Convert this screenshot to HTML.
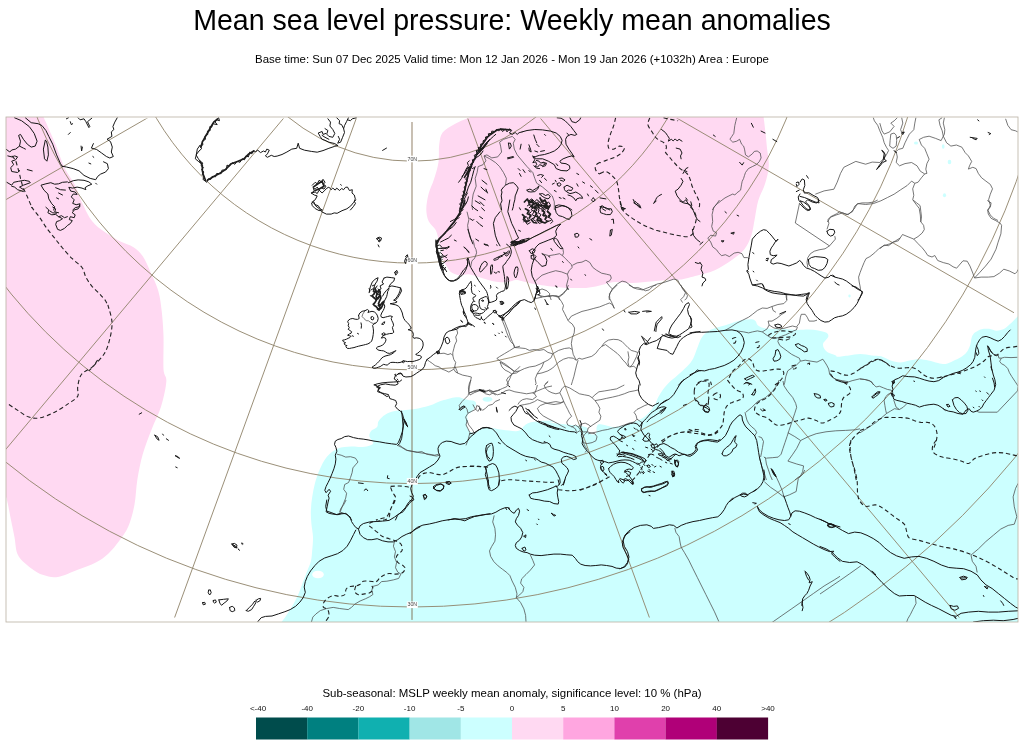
<!DOCTYPE html>
<html lang="en"><head><meta charset="utf-8"><title>Mean sea level pressure: Weekly mean anomalies</title>
<style>
html,body{margin:0;padding:0;background:#fff;}
body{width:1024px;height:747px;overflow:hidden;position:relative;font-family:"Liberation Sans",Arial,sans-serif;color:#000;}
h1{position:absolute;left:0;top:4px;width:1024px;margin:0;text-align:center;font-weight:normal;font-size:28.57px;line-height:32px;white-space:nowrap;}
.sub{position:absolute;left:0;top:52px;width:1024px;text-align:center;font-size:11.44px;line-height:14px;white-space:nowrap;}
.lt{position:absolute;left:0;top:686px;width:1024px;text-align:center;font-size:11.44px;line-height:14px;white-space:nowrap;}
svg{position:absolute;left:0;top:0;}
.gl{font-size:5.3px;fill:#444;text-anchor:middle;font-family:"Liberation Sans",sans-serif;}
.ll{font-size:8px;fill:#111;text-anchor:middle;font-family:"Liberation Sans",sans-serif;}
</style></head><body>
<h1>Mean sea level pressure: Weekly mean anomalies</h1>
<div class="sub">Base time: Sun 07 Dec 2025 Valid time: Mon 12 Jan 2026 - Mon 19 Jan 2026 (+1032h) Area : Europe</div>
<div class="lt">Sub-seasonal: MSLP weekly mean anomaly, significance level: 10 % (hPa)</div>
<svg width="1024" height="747" viewBox="0 0 1024 747">
<defs>
<clipPath id="mapclip"><rect x="6" y="117" width="1012" height="505"/></clipPath>
<clipPath id="gclip"><rect x="6" y="118.5" width="1008" height="499"/></clipPath>
<clipPath id="cyclip"><path d="M281.4,622.2C282.3,620.9 284.8,617.7 286.8,614.7C288.8,611.7 291.5,607.6 293.5,604C295.5,600.4 297.3,596.9 298.8,593.3C300.4,589.7 301.5,586.2 302.8,582.6C304.2,579 305.5,575.4 306.8,571.9C308.2,568.3 310,564.7 310.9,561.2C311.8,557.6 311.8,554.5 312.2,550.5C312.6,546.4 313.1,541.5 313,537.1C312.9,532.6 311.8,528.2 311.4,523.7C311,519.2 310.7,514.8 310.9,510.3C311,505.8 311.5,501.4 312.2,496.9C312.9,492.5 313.7,488 314.9,483.5C316.1,479.1 317.4,474.6 319.4,470.2C321.4,465.7 323.9,460.3 326.9,456.8C330,453.2 333.6,450.4 337.6,448.7C341.6,447 347.2,446.9 351,446.6C354.8,446.3 357.7,447.1 360.5,447C363.4,446.9 366.2,446.6 368.4,446C370.5,445.4 372.8,444.6 373.2,443.5C373.7,442.4 371.9,440.9 371.3,439.6C370.6,438.3 369.3,437.1 369.3,435.7C369.3,434.2 370,432.2 371.3,430.8C372.6,429.3 376,428.3 377.1,426.9C378.3,425.4 377.5,423.5 378.1,422C378.8,420.5 379.8,419.4 381.1,418.1C382.4,416.8 383.8,415.3 385.9,414.2C388.1,413 390.8,411.9 393.8,411.2C396.7,410.6 400.3,410.6 403.5,410.3C406.8,409.9 410,409.8 413.3,409.3C416.5,408.8 419.8,408.2 423,407.3C426.3,406.5 429.9,405.5 432.8,404.4C435.7,403.4 438.3,401.9 440.6,401.1C443,400.2 444.8,399.9 447,399.3C449.3,398.8 452,397.9 454.1,397.6C456.1,397.2 457.8,397.1 459.3,397.3C460.9,397.5 462,398.3 463.4,398.8C464.9,399.2 466.6,399.6 468.1,399.9C469.7,400.2 471.5,400.1 472.8,400.5C474.1,400.9 475.3,401.5 475.7,402.3C476.2,403 476,404.1 475.7,405.2C475.4,406.3 474.8,407.5 474,408.7C473.2,409.9 472,411.3 471.1,412.2C470.1,413.1 468.8,413.1 468.1,414C467.5,414.9 467.2,416.3 467.2,417.5C467.2,418.7 468.2,419.9 468.1,421C468,422.1 466.8,422.8 466.7,423.9C466.6,425.1 467.1,426.9 467.5,428C468,429.2 468.2,430.1 469.3,431C470.4,431.9 472.6,433.2 474,433.3C475.4,433.4 476.4,432.3 477.5,431.6C478.6,430.8 479.4,429.4 480.4,428.6C481.5,427.9 482.5,427.3 483.9,427.1C485.4,426.9 487.4,427.2 489.2,427.5C491.1,427.7 492.9,428.2 495.1,428.6C497.2,429 499.8,429.5 502.1,429.8C504.5,430.1 506.8,430.4 509.1,430.6C511.5,430.9 514.2,431.3 516.2,431.2C518.1,431.1 519.6,430.6 520.9,429.8C522.1,429 522.8,427.3 523.8,426.3C524.8,425.3 525.3,424.7 526.7,423.9C528.2,423.2 530.4,422.4 532.6,422C534.7,421.5 537.1,421.2 539.6,421C542.1,420.8 545.3,420.7 547.8,420.8C550.4,420.8 554.5,421 554.8,421.2C555.2,421.5 549,421.9 549.8,422.3C550.5,422.8 556.3,423.3 559.5,423.7C562.8,424.1 566,424.4 569.3,424.7C572.6,425 576.1,425.2 579.1,425.7C582,426.2 585.4,426.6 586.9,427.6C588.3,428.6 587,430.4 587.9,431.5C588.7,432.7 590.4,434.2 591.8,434.5C593.2,434.7 595.4,434 596.2,432.9C597.1,431.8 596.2,429 596.6,427.6C597,426.2 597.3,424.7 598.6,424.3C599.9,423.9 602.2,424.6 604.5,425.1C606.7,425.5 609.3,426.9 612.3,427C615.2,427.1 618.8,426.4 622,425.7C625.3,424.9 628.9,423.7 631.8,422.7C634.7,421.8 637.3,420.9 639.6,419.8C641.9,418.7 643.7,417.4 645.5,415.9C647.3,414.4 648.7,413 650.4,411C652,409.1 653.9,406.5 655.2,404.2C656.5,401.9 656.9,399.8 658.2,397.3C659.5,394.9 661.1,392.1 663,389.5C665,386.9 667.6,384 669.9,381.7C672.2,379.4 673.8,378.5 676.7,375.9C679.6,373.3 684.6,369.1 687.3,366.2C690.1,363.3 691.6,361.3 693.2,358.4C694.8,355.4 695.8,351.8 697.1,348.6C698.4,345.3 699.6,341.4 701,338.8C702.5,336.2 703.9,334.6 705.9,333C707.9,331.3 710,330.2 712.7,329.1C715.5,327.9 718.9,327.3 722.5,326.1C726.1,325 730.6,323.3 734.2,322.2C737.8,321.2 741.1,320.2 744,319.7C746.9,319.2 749.8,319 751.8,319.3C753.8,319.6 754.7,320.3 755.7,321.2C756.7,322.2 756.4,324 757.7,325.2C759,326.3 760.9,327.4 763.5,328.1C766.1,328.7 769.7,328.9 773.3,329.1C776.9,329.2 781.1,328.9 785,329.1C788.9,329.2 792.8,329.9 796.7,330C800.6,330.1 804.9,329.6 808.4,329.6C812,329.7 815.3,329.9 818.2,330.4C821.1,330.9 824.3,331.7 826,332.6C827.7,333.5 828.4,334.7 828.4,335.9C828.4,337.1 826.9,338.5 826,339.8C825.1,341.1 823.4,342.2 823.1,343.7C822.8,345.2 823.2,347.1 824.1,348.6C824.9,350.1 826,351.4 828,352.5C829.9,353.6 834.2,354.7 835.8,355.4C837.4,356.1 835.4,356.7 837.6,356.7C839.8,356.7 845.2,355.8 848.9,355.4C852.7,354.9 856.5,354 860.3,354C864.1,354 868.2,355 871.7,355.4C875.2,355.7 878,355.5 881.2,356.3C884.3,357.2 887.5,359.5 890.6,360.5C893.8,361.5 896.9,362.4 900.1,362.4C903.3,362.4 906.4,361 909.6,360.5C912.7,359.9 915.9,359.2 919,359.2C922.2,359.2 925.4,359.8 928.5,360.5C931.7,361.1 935.1,362.4 938,362.9C940.8,363.5 943,364.2 945.6,363.9C948.1,363.6 950.6,362.2 953.1,361C955.7,359.9 958.5,358.7 960.7,357.3C962.9,355.8 964.8,354.6 966.4,352.5C968,350.5 969.3,347.5 970.2,344.9C971.1,342.4 970.9,339.4 971.7,337.4C972.5,335.3 973.3,334 974.9,332.6C976.6,331.3 979.2,329.8 981.6,329.2C983.9,328.6 986.6,328.6 989.1,328.8C991.7,329.1 994.2,330.7 996.7,330.7C999.2,330.7 1002.1,329.9 1004.3,328.8C1006.5,327.7 1008.2,325.7 1010,324.1C1011.7,322.5 1013.5,320.6 1014.7,319.4C1016,318.1 1017.1,317 1017.6,316.5 L1018,316.5 L1018,622 L281.4,622 Z"/></clipPath>
</defs>
<g clip-path="url(#mapclip)">
<path d="M6,117 L43.5,117C45.5,121.6 52.2,136.4 55.7,144.8C59.1,153.2 61.2,160.7 64.4,167.4C67.6,174.1 71.9,179 74.8,184.8C77.7,190.6 78.9,196.1 81.8,202.2C84.7,208.3 88.4,216.4 92.2,221.3C96,226.3 100,228.6 104.4,231.8C108.7,235 113.4,237.9 118.3,240.5C123.2,243.1 129.9,244.8 133.9,247.4C138,250 140,252.4 142.6,256.1C145.3,259.9 147,264.2 149.6,270C152.2,275.8 156.3,284 158.3,290.9C160.3,297.9 160.9,304.3 161.8,311.8C162.6,319.3 163.2,326.6 163.5,336.1C163.8,345.7 163.1,361.6 163.5,369.2C164,376.8 166.8,375.4 166.3,381.7C165.9,388 163.3,399.2 160.9,407C158.5,414.8 154.9,420.9 151.9,428.7C148.8,436.5 145.2,445.6 142.8,454C140.4,462.4 138.8,470.9 137.4,479.3C136,487.8 136,496.8 134.5,504.6C133,512.5 130.9,520.3 128.4,526.3C125.8,532.3 122.6,536.3 119.3,540.8C116,545.3 112.4,549.8 108.5,553.4C104.6,557.1 100.9,559.8 95.8,562.5C90.7,565.2 84.1,567.3 77.7,569.7C71.4,572.1 63.6,576 57.9,576.9C52.1,577.8 47.9,576.6 43.4,575.1C38.9,573.6 35,571.2 30.7,567.9C26.5,564.6 20.8,560.4 18.1,555.2C15.4,550.1 15.7,543.2 14.5,537.2C13.3,531.1 11.9,524.5 10.8,519.1C9.8,513.7 8.7,508.2 8,504.6C7.2,501 6.7,498.6 6.5,497.4 L6,497.4 Z" fill="#ffd9f2"/>
<path d="M470.5,117C467.9,118.1 459.4,121.3 454.8,123.9C450.2,126.5 445.2,129.1 442.6,132.6C440,136.1 439.9,139.9 439.2,144.8C438.5,149.7 439.3,156.4 438.5,162.2C437.6,168 435.6,174.4 433.9,179.6C432.3,184.8 430,188.6 428.7,193.5C427.4,198.4 426.3,204.5 426.3,209.2C426.3,213.8 427.2,217.9 428.7,221.3C430.3,224.8 433.9,226.6 435.7,230C437.4,233.5 437.9,237.3 439.2,242.2C440.4,247.1 442.1,255.3 443.4,259.5C444.8,263.7 446,265.2 447.3,267.3C448.6,269.5 449.3,270.9 451.2,272.2C453.2,273.5 456.1,274.8 459.1,275.2C462,275.5 465.6,273.9 468.8,274.2C472.1,274.5 475.3,276.1 478.6,277.1C481.8,278.1 485.1,279.2 488.4,280C491.6,280.9 494.9,281.7 498.1,282C501.4,282.3 505,282.3 507.9,282C510.8,281.7 513.4,280.2 515.7,280C518,279.9 519.3,280.5 521.6,281C523.8,281.5 526.8,282.4 529.4,283C532,283.6 534.3,284 537.2,284.5C540.1,285 543.7,285.5 547,285.9C550.2,286.3 553.5,286.5 556.7,286.9C560,287.2 563.2,287.7 566.5,287.9C569.7,288 573,287.9 576.2,287.9C579.5,287.9 582.8,288.1 586,287.9C589.3,287.6 592.5,287.1 595.8,286.5C599,285.8 602.3,284.7 605.5,283.9C608.8,283.2 610.9,282.2 615.3,282C619.8,281.8 625.9,283 632.2,282.9C638.5,282.8 646.2,281.8 653.1,281.2C660.1,280.6 669.5,279.7 674,279.4C678.5,279.2 676.1,280.2 680,279.6C683.9,278.9 691.6,277 697.4,275.4C703.2,273.8 709,272.8 714.8,270.2C720.6,267.6 727.3,263.2 732.2,259.7C737.2,256.2 741.2,253.3 744.4,249.3C747.6,245.2 749.6,240.6 751.4,235.3C753.1,230.1 753.7,223.7 754.9,217.9C756,212.1 756.6,206.3 758.3,200.5C760.1,194.7 763.6,188.9 765.3,183.1C767,177.3 768.5,171.5 768.8,165.7C769.1,159.9 767.6,154.1 767,148.3C766.5,142.5 765.9,136.1 765.3,130.9C764.7,125.7 763.9,119.3 763.6,117Z" fill="#ffd9f2"/>
<path id="cy" d="M281.4,622.2C282.3,620.9 284.8,617.7 286.8,614.7C288.8,611.7 291.5,607.6 293.5,604C295.5,600.4 297.3,596.9 298.8,593.3C300.4,589.7 301.5,586.2 302.8,582.6C304.2,579 305.5,575.4 306.8,571.9C308.2,568.3 310,564.7 310.9,561.2C311.8,557.6 311.8,554.5 312.2,550.5C312.6,546.4 313.1,541.5 313,537.1C312.9,532.6 311.8,528.2 311.4,523.7C311,519.2 310.7,514.8 310.9,510.3C311,505.8 311.5,501.4 312.2,496.9C312.9,492.5 313.7,488 314.9,483.5C316.1,479.1 317.4,474.6 319.4,470.2C321.4,465.7 323.9,460.3 326.9,456.8C330,453.2 333.6,450.4 337.6,448.7C341.6,447 347.2,446.9 351,446.6C354.8,446.3 357.7,447.1 360.5,447C363.4,446.9 366.2,446.6 368.4,446C370.5,445.4 372.8,444.6 373.2,443.5C373.7,442.4 371.9,440.9 371.3,439.6C370.6,438.3 369.3,437.1 369.3,435.7C369.3,434.2 370,432.2 371.3,430.8C372.6,429.3 376,428.3 377.1,426.9C378.3,425.4 377.5,423.5 378.1,422C378.8,420.5 379.8,419.4 381.1,418.1C382.4,416.8 383.8,415.3 385.9,414.2C388.1,413 390.8,411.9 393.8,411.2C396.7,410.6 400.3,410.6 403.5,410.3C406.8,409.9 410,409.8 413.3,409.3C416.5,408.8 419.8,408.2 423,407.3C426.3,406.5 429.9,405.5 432.8,404.4C435.7,403.4 438.3,401.9 440.6,401.1C443,400.2 444.8,399.9 447,399.3C449.3,398.8 452,397.9 454.1,397.6C456.1,397.2 457.8,397.1 459.3,397.3C460.9,397.5 462,398.3 463.4,398.8C464.9,399.2 466.6,399.6 468.1,399.9C469.7,400.2 471.5,400.1 472.8,400.5C474.1,400.9 475.3,401.5 475.7,402.3C476.2,403 476,404.1 475.7,405.2C475.4,406.3 474.8,407.5 474,408.7C473.2,409.9 472,411.3 471.1,412.2C470.1,413.1 468.8,413.1 468.1,414C467.5,414.9 467.2,416.3 467.2,417.5C467.2,418.7 468.2,419.9 468.1,421C468,422.1 466.8,422.8 466.7,423.9C466.6,425.1 467.1,426.9 467.5,428C468,429.2 468.2,430.1 469.3,431C470.4,431.9 472.6,433.2 474,433.3C475.4,433.4 476.4,432.3 477.5,431.6C478.6,430.8 479.4,429.4 480.4,428.6C481.5,427.9 482.5,427.3 483.9,427.1C485.4,426.9 487.4,427.2 489.2,427.5C491.1,427.7 492.9,428.2 495.1,428.6C497.2,429 499.8,429.5 502.1,429.8C504.5,430.1 506.8,430.4 509.1,430.6C511.5,430.9 514.2,431.3 516.2,431.2C518.1,431.1 519.6,430.6 520.9,429.8C522.1,429 522.8,427.3 523.8,426.3C524.8,425.3 525.3,424.7 526.7,423.9C528.2,423.2 530.4,422.4 532.6,422C534.7,421.5 537.1,421.2 539.6,421C542.1,420.8 545.3,420.7 547.8,420.8C550.4,420.8 554.5,421 554.8,421.2C555.2,421.5 549,421.9 549.8,422.3C550.5,422.8 556.3,423.3 559.5,423.7C562.8,424.1 566,424.4 569.3,424.7C572.6,425 576.1,425.2 579.1,425.7C582,426.2 585.4,426.6 586.9,427.6C588.3,428.6 587,430.4 587.9,431.5C588.7,432.7 590.4,434.2 591.8,434.5C593.2,434.7 595.4,434 596.2,432.9C597.1,431.8 596.2,429 596.6,427.6C597,426.2 597.3,424.7 598.6,424.3C599.9,423.9 602.2,424.6 604.5,425.1C606.7,425.5 609.3,426.9 612.3,427C615.2,427.1 618.8,426.4 622,425.7C625.3,424.9 628.9,423.7 631.8,422.7C634.7,421.8 637.3,420.9 639.6,419.8C641.9,418.7 643.7,417.4 645.5,415.9C647.3,414.4 648.7,413 650.4,411C652,409.1 653.9,406.5 655.2,404.2C656.5,401.9 656.9,399.8 658.2,397.3C659.5,394.9 661.1,392.1 663,389.5C665,386.9 667.6,384 669.9,381.7C672.2,379.4 673.8,378.5 676.7,375.9C679.6,373.3 684.6,369.1 687.3,366.2C690.1,363.3 691.6,361.3 693.2,358.4C694.8,355.4 695.8,351.8 697.1,348.6C698.4,345.3 699.6,341.4 701,338.8C702.5,336.2 703.9,334.6 705.9,333C707.9,331.3 710,330.2 712.7,329.1C715.5,327.9 718.9,327.3 722.5,326.1C726.1,325 730.6,323.3 734.2,322.2C737.8,321.2 741.1,320.2 744,319.7C746.9,319.2 749.8,319 751.8,319.3C753.8,319.6 754.7,320.3 755.7,321.2C756.7,322.2 756.4,324 757.7,325.2C759,326.3 760.9,327.4 763.5,328.1C766.1,328.7 769.7,328.9 773.3,329.1C776.9,329.2 781.1,328.9 785,329.1C788.9,329.2 792.8,329.9 796.7,330C800.6,330.1 804.9,329.6 808.4,329.6C812,329.7 815.3,329.9 818.2,330.4C821.1,330.9 824.3,331.7 826,332.6C827.7,333.5 828.4,334.7 828.4,335.9C828.4,337.1 826.9,338.5 826,339.8C825.1,341.1 823.4,342.2 823.1,343.7C822.8,345.2 823.2,347.1 824.1,348.6C824.9,350.1 826,351.4 828,352.5C829.9,353.6 834.2,354.7 835.8,355.4C837.4,356.1 835.4,356.7 837.6,356.7C839.8,356.7 845.2,355.8 848.9,355.4C852.7,354.9 856.5,354 860.3,354C864.1,354 868.2,355 871.7,355.4C875.2,355.7 878,355.5 881.2,356.3C884.3,357.2 887.5,359.5 890.6,360.5C893.8,361.5 896.9,362.4 900.1,362.4C903.3,362.4 906.4,361 909.6,360.5C912.7,359.9 915.9,359.2 919,359.2C922.2,359.2 925.4,359.8 928.5,360.5C931.7,361.1 935.1,362.4 938,362.9C940.8,363.5 943,364.2 945.6,363.9C948.1,363.6 950.6,362.2 953.1,361C955.7,359.9 958.5,358.7 960.7,357.3C962.9,355.8 964.8,354.6 966.4,352.5C968,350.5 969.3,347.5 970.2,344.9C971.1,342.4 970.9,339.4 971.7,337.4C972.5,335.3 973.3,334 974.9,332.6C976.6,331.3 979.2,329.8 981.6,329.2C983.9,328.6 986.6,328.6 989.1,328.8C991.7,329.1 994.2,330.7 996.7,330.7C999.2,330.7 1002.1,329.9 1004.3,328.8C1006.5,327.7 1008.2,325.7 1010,324.1C1011.7,322.5 1013.5,320.6 1014.7,319.4C1016,318.1 1017.1,317 1017.6,316.5 L1018,316.5 L1018,622 L281.4,622 Z" fill="#ccffff"/>
<ellipse cx="487.5" cy="399.3" rx="4.8" ry="2.4" fill="#ccffff"/>
<ellipse cx="318" cy="574.5" rx="5.8" ry="3.8" fill="#fff"/>
<ellipse cx="916" cy="143" rx="2" ry="1.6" fill="#ccffff"/>
<ellipse cx="943.2" cy="146.5" rx="1.3" ry="2.2" fill="#ccffff"/>
<ellipse cx="949.5" cy="162" rx="1.8" ry="2.2" fill="#ccffff"/>
<ellipse cx="944.5" cy="195.3" rx="1.6" ry="2" fill="#ccffff"/>
<ellipse cx="849.5" cy="296" rx="1.2" ry="1.4" fill="#ccffff"/>
<g fill="none" stroke-width="0.9" stroke="#8f8269">
<g clip-path="url(#gclip)"><path d="M412,-54.2 412,-1053.5 M405.4,-53 63.6,-992.1 M399.5,-49.7 -242.8,-815.2 M395.2,-44.5 -470.2,-544.1 M392.9,-38.2 -591.2,-211.7 M392.9,-31.4 -591.2,142.1 M395.2,-25.1 -470.2,474.5 M399.5,-19.9 -242.8,745.6 M405.4,-16.6 63.6,922.5 M418.6,-16.6 760.4,922.5 M424.5,-19.9 1066.8,745.6 M428.8,-25.1 1294.2,474.5 M431.1,-31.4 1415.2,142.1 M431.1,-38.2 1415.2,-211.7 M428.8,-44.5 1294.2,-544.1 M424.5,-49.7 1066.8,-815.2 M418.6,-53 760.4,-992.1"/></g>
<circle cx="412.0" cy="-34.8" r="778.4"/><circle cx="412.0" cy="-34.8" r="641.8"/><circle cx="412.0" cy="-34.8" r="518.4"/><circle cx="412.0" cy="-34.8" r="404.6"/><circle cx="412.0" cy="-34.8" r="297.9"/><circle cx="412.0" cy="-34.8" r="196.0"/>
</g>
<path d="M412,122 L412,619.7" stroke="#c3b9ab" stroke-width="1.8" fill="none"/>
<path d="M412,122 L412,619.7" stroke="#a5bcae" stroke-width="1.8" fill="none" clip-path="url(#cyclip)"/>
<path d="M484,155.9 486.9,154.9 491.8,157.9 497.7,156.9 501.6,152 500.6,146.1 499.6,142.2 503.5,139.3 508.4,137.7 512.3,136.4 515.2,139.3 513.3,143.2 M513.3,143.2 514.3,149.1 517.2,154.9 522.1,160.8 527,166.6 532.8,172.5 534.8,178.4 536.7,183.2 542.6,187.1 548.4,192 552.3,195.9 554.3,201.8 554.3,210 M505.5,185.2 506.4,178.4 503.5,172.5 499.6,166.6 495.7,162.7 489.8,158.8 484,155.9 M484,155.9 485.9,160.8 483,164.7 478.1,166.6 477.1,172.5 475.2,178.4 476.2,186.2 473.2,194 472.3,199.8 471.9,205.7 472.7,210 M736.7,117.8 735.7,121.7 734.8,125.6 733.8,133.4 731.8,136.4 729.9,139.3 732.8,142.2 736.7,141.2 739.6,139.3 741.6,144.2 743.6,146.1 744.5,149.1 745.5,154.9 748.4,156.9 752.3,153.9 754.3,151.4 757.2,151 760.2,153 761.1,157.9 759.2,161.8 756.2,164.7 752.3,166.6 748.4,168.6 745.5,172.5 744.5,175.4 743.6,178.4 742.2,181.3 741.6,184.2 740.6,190.1 736.7,193 734.8,195 732.8,194 728.9,195.9 725,197.9 721.1,200.8 717.2,203.8 714.3,206.7 712.3,210 M815.3,194.2 824.1,190.9 833.9,189.2 837.2,182.2 840.5,173.4 843.8,167.3 855.8,161.4 865.6,164.2 872.2,162.1 879.8,162.5 883.1,159.2 886.4,154.8 888.6,150.5 886.4,147.2 884.2,142.8 882.7,137.3 879.8,130.8 877.7,125.3 874.4,120.9 873.3,117.7 M879.8,123.1 882,130.8 884.2,134.1 889.7,131.9 894.1,126.4 890.8,123.1 894.1,120.9 897.3,117.7 M890.8,134.1 890.1,140.6 889.7,146.1 893,148.3 896.2,146.1 896.7,140.6 896.2,135.2 894.1,133 890.8,134.1 M896.2,151.6 898.4,149.4 902.8,148.3 905,142.8 907.2,138.4 909.4,134.1 913.8,129.7 914.8,123.1 915.9,117.7 M901.7,117.7 902.8,123.1 900.6,129.7 902.4,134.1 905,131.9 M827.3,222 830.6,217.2 836.1,215 842.7,212.8 847,214.6 852.5,211.7 854.7,206.2 858,203.6 865.6,204.5 873.3,203.6 880.9,200.8 887.5,197.5 894.1,194.2 900.6,189.8 907.2,185.5 911.6,181.1 914.8,183.3 M896.2,151.6 897.3,157 896.2,162.5 899.5,165.8 905,163.6 911.6,162.5 917,165.8 920.3,171.2 924.7,173.9 921.4,177.8 918.1,182.2 914.8,183.3 912.7,188.8 913.8,195.3 912.7,199.7 915.9,204.1 919.2,208.4 920.3,215 920.8,222 M919.2,139.5 923.6,137.3 929.1,136.2 935.6,138.4 941.1,140.6 943.3,136.2 942.2,130.8 940,125.3 938.9,119.8 942.2,117.7 M919.2,139.5 921.4,145 924.7,148.3 926.9,153.8 929.1,159.2 926.9,163.6 925.8,169.1 926.9,173.4 924.7,173.9 M943.3,136.2 946.6,142.8 950.9,146.1 956.4,145 961.9,147.2 965.2,152.7 968.4,155.9 971.7,161.4 969.5,165.8 968.4,169.1 972.8,167.3 976.1,168.6 978.3,173.4 981.6,177.8 985.9,181.1 990.3,184.4 992.5,188.8 990.3,194.2 988.6,199.7 990.3,205.2 988.1,210.6 990.3,215 993.6,218.3 998,220.5 M944.4,117.7 943.3,123.1 944.8,129.7 944.4,134.1 943.3,136.2 M1005.6,118.8 1007.8,125.3 1011.1,129.7 1015.5,130.8 1017.7,131.9 M467,211.7 468.9,219.5 467.6,225.4 468.4,231.2 469.9,237.1 471.5,240 M542,253.7 548.8,255.7 554.7,254.7 559.6,253.7 562.5,255.7 M562.9,248.8 563.5,252.7 562.5,255.7 M562.5,255.7 565.4,258.6 568.4,261.5 571.3,264.5 572.3,267.4 569.3,270.3 567.4,274.2 M535.2,281.1 542,275.2 548.8,272.7 555.7,270.7 561.5,271.9 567.4,274.2 M567.4,274.2 568.4,278.1 567.4,282 566.4,285.9 568,288.9 565.4,290.8 562.5,293.8 558.6,296.7 M536.1,291.8 542,288.9 546.9,290.8 549.8,293.8 548.8,296.7 552.7,295.7 556.6,296.7 558.6,296.7 M536.1,293.8 540,295.7 544.9,296.7 549.8,296.1 M572.3,265.4 577.1,262.9 582,262.1 585.9,260.2 589.8,262.5 592.8,267.4 596.7,270.3 601.6,273.2 606.4,274.2 610.4,275.2 611.3,278.1 609.4,281.1 606.4,282 M606.4,282 609.4,285.9 612.3,288.9 610.4,292.8 609,296.7 609.4,300 M612.3,288.9 617.2,284 622.1,281.1 626,282 629.9,285 633.8,287.9 637.7,287.5 641.6,288.9 645.5,290.8 649.4,289.8 653.3,285.9 657.2,284 662.1,283 668,281.1 673.8,279.1 677.7,280.1 679.7,284 682.6,287.9 685.5,291.8 687.5,295.7 686.5,298.6 684.6,300 M558.6,296.7 559.6,300 M549.8,296.1 551.2,300 M799.6,202.9 795.3,223 829.5,245.9 835.4,239.1 834.8,236.1 M827,229.3 828.9,223.4 827.9,219.5 830.9,216.6 836.7,213.7 839.6,211.7 844.5,213.7 848.4,214.6 854.3,208.8 857.2,203.9 862.1,202.9 868,202.9 873.8,202 877.7,200 M829.5,245.9 825,248.8 819.1,249.8 814.3,251.2 810.4,253.7 807.8,257.6 807,262.5 807.8,267.4 M900,238.1 895.3,241 889.5,243.9 883.6,245.9 878.7,248.8 874.8,252.7 869.9,256.6 866,258.6 864.1,262.5 862.1,267.4 860.2,272.3 858.6,277.1 859.2,282 860.2,286.9 860.5,290.2 M719.5,200 716.6,203.9 713.7,207.8 712.1,214.6 712.7,221.5 711.7,226.4 713.3,231.2 716.6,232.8 715.6,236.1 710.7,235.2 707.8,238.1 710.7,242 712.7,246.9 716.6,249.8 718.6,252.7 721.5,255.7 725.4,254.7 729.3,256.6 734.2,253.1 738.1,252.3 742,253.7 743.9,257.6 747.9,257.6 M785.9,293.8 786.3,297.7 786.9,300 M880,248.5 884.2,245 888.4,245.7 893.4,242.2 898.3,240.8 902.5,234.5 908.1,236.8 913.8,239.1 918,236.6 922.2,233 924.3,229.5 923.6,225.3 920.8,221.8 921.5,216.9 920.8,211.2 920.1,205.6 916.6,202.8 913,200 M913.8,239.1 918,243.6 922.2,247.8 925,251.3 927.8,255.5 932,257 934.8,255.5 937.7,260.5 943.3,262.6 948.9,264 953.1,266.8 956.6,268.2 960.2,264 963,260.8 967.2,261.2 970,266.1 972.8,273.1 974.5,278 M974.5,278 979.8,272.4 985.5,266.1 991.1,259.1 996,249.2 998.1,242.2 1000.9,233.8 1001.6,225.3 1000.2,223.2 M1000.2,223.2 995.3,220.4 991.1,218.3 988.3,214.1 987.6,209.8 990.4,207 991.1,202.8 988.3,201.4 987.6,200 M974.5,278 981.2,277.1 988.3,277.1 993.9,276.6 999.5,273.1 1003.8,269.2 1009.4,271 1015,273.8 1017.1,271.7 1017.8,269.6 M427,359.5 429.4,361.4 432.3,363.4 435.2,365.7 439.1,366.9 442.1,369.2 445,370.2 M436.2,352.6 440.1,353.6 444,353.2 447.9,354.6 450.9,353.6 452.8,355.5 M456.7,329.2 457.7,333.1 455.7,337 456.7,340.9 454.8,344.8 453.8,348.7 452.8,352.6 452.8,355.5 M452.8,355.5 453.8,359.5 455.7,362.4 454.8,366.3 453.8,369.2 M453.8,369.2 455.7,372.1 457.7,373.1 456.7,370.2 454.8,366.3 M445,370.2 448.9,372.1 453.8,369.2 M457.7,373.1 462.6,375.1 467.5,376.1 471.4,377 M471.4,377 470.4,381.9 469.4,386.8 468.8,391.7 470,395 M470,395 474.3,392.7 479.2,390.7 484.1,391.7 488,390.3 M488,390.3 492.9,391.7 497.7,390.7 502.6,388.4 506.5,386.8 508.5,383.9 506.5,380 508.5,377 512.4,374.1 514.3,371.2 M514.3,371.2 510.4,368.2 505.5,364.3 500.7,361.4 496.8,358.5 499.7,356.5 504.6,353.6 509.5,350.7 514.3,347.7 M502.6,316.5 504.6,321.4 506.5,326.2 508.5,331.1 510.4,337 512.4,341.9 514.3,346.2 514.3,347.7 M514.3,347.7 517.3,346.8 520,346.2 M514.3,371.2 517.3,369.2 520,366.3 M465.5,325.3 468.4,324.3 470.8,324.7 M488,390.3 491.9,392.7 495.8,395 M502,317.2 502.9,322.1 504.9,327 506.8,332.9 508.8,337.7 510.7,341.6 513.7,344.6 514.6,347.5 M514.6,347.5 519.5,347.9 525.4,348.5 529.3,350.4 534.2,349.5 539.1,350.4 543.9,349.5 547.9,352.4 552.7,353.8 M552.7,353.8 558.6,350.4 564.5,348.5 569.3,347.9 572.3,349.5 M572.3,349.5 571.3,343.6 572.3,337.7 574.2,332.9 574.6,328 572.3,324.1 568.4,321.1 566.4,317.2 564.5,313.3 562.5,309.4 563.5,305.5 561.5,301.6 558.6,297.7 555.7,295.7 M535.2,298.7 542,297.1 548.8,295.7 555.7,295.7 559.6,296.7 563.5,293.8 566.4,289.9 568.4,285 M538.1,294.8 542,297.1 M568.4,320.2 571.3,316.2 576.2,313.9 582,311.4 587.9,310 593.8,308.4 599.6,306.9 605.5,304.5 609.4,303 612.3,304.5 614.3,308.4 612.3,303.6 609.8,298.7 609.4,293.8 612.3,289.9 615.2,287 617.2,285 M628.9,285 632.8,287.3 636.7,288.9 642.6,289.9 647.5,287.9 652.3,286 656.2,285 M680.7,285 682.6,288.9 685.5,292.8 683.6,296.7 680.7,299.6 682.6,302.6 M552.7,353.8 551.2,357.7 547.9,360.2 543.9,362.1 M500,362.1 504.9,365.1 509.8,368 514.6,371.9 519.5,370.9 524.4,368.6 529.3,367 535.2,366.1 540,364.1 543.9,362.1 M543.9,362.1 542,367 539.1,370.9 537.1,373.9 M537.1,373.9 542,372.9 547.9,370.9 552.7,368 558.6,362.1 563.5,359.2 568.4,357.7 573.2,358.2 576.2,360.2 M572.3,349.5 573.2,354.3 576.2,360.2 M576.2,360.2 579.1,358.2 582,359.2 M582,359.2 586.9,357.7 591.8,356.3 595.7,353.4 598.6,349.5 601.6,346.5 M578.1,360.2 576.6,365.1 575.2,370.9 573.8,376.8 572.3,381.7 571.3,385 M537.1,373.9 535.2,378.8 536.1,383.6 535.2,385 M601.6,346.5 604.5,342.6 608.4,340.1 613.3,339.3 618.2,339.7 622.1,341.6 625,344.6 627.9,347.5 631.2,350.4 634.8,351.4 637.7,352.4 639.1,351.4 M601.6,346.5 605.5,344.6 609.4,347.5 613.3,350.4 617.2,353.4 620.1,356.3 623,360.2 626,363.1 627.9,366.1 629.9,367 M629.9,367 632.8,364.1 634.8,360.2 636.7,356.3 637.7,352.4 M627.9,351.4 628.9,357.3 627.9,362.1 628.9,366.1 M629.9,367 633.8,366.1 636.7,369 M500,362.1 502,367 504.9,370 508.8,371.9 511.7,373.9 509.8,378.8 507.8,382.7 506.8,385 M511.7,373.9 516.6,372.9 519.5,370.9 M725.2,330.3 731,327 736.9,323.1 742.7,320.2 748.6,317.2 752.5,314.3 757.4,310.4 762.3,308 767.1,308.4 772,306.5 777.9,304.5 783.8,303.6 786.7,300.6 786.7,294.8 M736.9,330.9 743.7,331.9 748.6,332.9 752.5,331.9 757.4,330.9 762.3,331.9 767.1,328.9 769.1,325 768.1,321.1 772,321.1 776.9,318.2 781.8,314.3 785.7,312 M772,306.5 773,310.4 775.9,312.3 M769.1,325 774,328 778.9,328.9 783.8,328.4 788.6,327 792.5,326 796.4,327 799.4,323.1 800.4,317.2 801.3,314.3 805.2,314.3 807.2,317.2 809.1,321.1 814,321.1 817,320.2 M762.3,331.9 766.2,334.8 770.1,337.3 774,338.7 777.9,337.7 781.8,336.2 785.7,334.8 789.6,332.9 793.5,330.9 796.4,329.9 797.4,327 M778.9,337.7 777.9,341.6 779.8,345.5 783.8,348.5 787.7,351.4 791.6,354.3 795.5,356.3 799.4,358.2 800.4,361.2 M800.4,361.2 805.2,360.2 811.1,361.2 817,362.1 822.8,359.2 824.8,362.1 826.7,365.1 828.7,369 829.6,373.9 831.6,376.8 836.5,379.7 842.3,380.7 848.2,381.7 M829.6,373.9 834.5,378.8 840.4,380.7 846.2,382.7 852.1,380.7 859.9,378.8 865.8,379.7 871.6,381.7 873.6,385 M800.4,361.2 796.4,365.1 791.6,368 787.7,370.9 785.7,376.8 784.7,382.7 783.8,385 M891.3,393.4 888.1,394.3 885.7,396.7 884.1,400.7 884.9,405.5 885.7,410.3 886.5,413.5 M893.7,399.9 896.1,407.1 899.4,409.5 903.4,407.1 906.6,403.9 M886.5,413.5 880.9,418.3 876.1,422.4 871.2,425.6 866.4,428.8 860,432.8 M886.5,413.5 890.5,411.1 894.5,408.7 899.4,409.5 M860,379 864.8,379.5 869.6,380.6 872.9,383.8 876.1,387 879.3,386.2 883.3,387.8 887.3,389.4 891.3,390.2 892.9,392.6 M976.5,411.1 978.9,412.2 997.3,412.2 1017.4,391 1018.2,386.2 1015,381.4 1011.8,376.6 1009.4,372.6 1007.8,368.6 1004.6,365.3 1001.4,363.7 999.7,361.3 1001.4,358.1 1004.6,357.3 1011,357.6 1017.4,357.3 M998.1,354.9 998.9,358.1 1001.4,358.1 M336.9,454.2 341.2,455.2 345.7,457.1 350.5,456.7 355.4,458.1 358,462 355.4,464.9 352.9,467.9 352.1,472.7 350.5,477.6 348.6,482.5 344.7,484.5 343.7,489.3 346.6,493.2 345.7,498.1 343.7,503 341.8,507.9 340.4,511.4 341.8,513.8 M398.4,444.4 402.3,447.3 407.2,450.3 412.1,451.2 417,452.2 421.8,451.6 426.7,454.2 431.6,455.2 436.5,456.1 439.4,455.2 M466.8,420 468.7,424.9 472.6,429.8 474.6,433.7 M472.9,404.5 474.9,408.4 477.8,411.4 479.8,408.4 478.8,405.5 M470,392.8 473.9,390.9 477.8,389.9 481.7,390.9 485.6,393.8 489.5,394.8 493.4,392.8 497.3,394.8 501.2,393.8 505.2,390.9 509.1,389.9 M509.1,389.9 514.9,391.8 520.8,392.8 526.6,393.8 532.5,392.8 M517.9,404.5 519.8,401.6 522.7,399.6 526.6,398.7 532.5,399.6 536.4,396.7 534.5,393.8 532.5,392.8 M532.5,392.8 537.4,390.9 542.3,388.9 547.1,387 552,386 M519.8,405.5 524.7,404.5 529.6,403.6 534.5,401.6 537.4,399.6 M537.4,399.6 542.3,401.6 548.1,403.6 554,404.5 559.8,403.6 563.8,401.6 M537.4,408.4 540.3,405.5 545.2,403.6 550.1,402.6 555.9,401.6 560.8,402.6 563.8,401.6 565.7,405.5 567.7,409.4 569.6,413.3 571.6,416.2 568.6,419.2 566.7,422.1 567.7,425 572.5,427 575.5,428.9 576.4,431.9 M537.4,408.4 539.3,412.3 543.2,415.9 548.1,418.6 553,421.1 557.9,423.7 561.8,426 565.7,428 M563.8,401.6 561.8,396.7 559.8,392.8 561.8,388.9 564.7,386 M564.7,386 569.6,387.9 574.5,390.9 579.4,393.8 584.3,394.8 589.1,395.7 592.1,397.7 M592.1,397.7 595,400.6 597.9,404.5 599.9,408.4 598.9,412.3 600.9,416.2 599.9,420.2 597,422.1 594,424.1 591.1,426 588.2,428 587.2,431.9 M595,400.6 600.9,399.6 606.7,398.3 612.6,397.1 618.4,395.7 624.3,393.8 629.2,391.8 634.1,390.9 638.4,389.9 M588.2,433.8 592.1,432.9 597,431.9 602.8,430.3 607.7,429.5 612.6,428 618.4,427 624.3,425 629.2,423.1 634.1,422.1 637,419.2 636,415.3 634.1,412.3 637,409.4 640.9,407.5 644.8,405.5 647.7,404.5 M637,419.2 639.9,421.1 642.9,423.1 M587.2,431.9 584.3,434.8 582.3,438.7 583.3,442.6 587.2,443.6 592.1,442.6 596,440.7 597,436.8 595,433.8 591.1,432.9 587.2,431.9 M576.4,432.9 579.4,430.9 582.3,432.9 583.3,436.8 582.3,439.7 583.3,442.6 585.2,446.5 587.2,449.5 585.2,452.4 M571.6,427 575.5,425 578.4,427 580.4,429.9 583.3,431.9 587.2,431.9 M578.4,427 581.3,424.1 585.2,423.1 589.1,425 591.1,427 M537.4,385 536.4,388.9 534.5,393.8 M559.8,392.8 555.9,393.8 552,392.8 548.1,390.9 545.2,387.9 544.2,385 M592.1,397.7 595,394.8 598.9,391.8 604.8,390.9 610.6,389.9 616.5,388.9 622.3,386 624.3,385 M397.7,445.4 401.6,447.4 406.4,450.3 411.3,451.3 417.2,452.3 423,453.2 428.9,454.2 434.8,455.2 438.7,454.2 M466,445.4 468.4,438.6 469.9,432.7 468,428.8 466,424.9 467,421 465.6,417.1 468,413.2 467,409.3 465,406.4 462.1,407.3 460.2,409.3 M460.2,409.3 459.2,405.4 462.1,401.5 465,398.6 468,395.6 468.9,392.7 M468,413.2 471.9,411.2 475.8,409.3 476.8,405.4 479.7,407.3 482.6,410.3 485.5,408.3 488.5,405.4 492.4,404.4 495.3,401.5 500,399.5 M468.9,392.7 473.8,391.7 478.7,390.7 483.6,389.8 486.5,391.7 489.5,389.8 M468.9,392.7 468.4,387.8 469.5,382.9 470.9,380 M489.5,389.8 493.4,391.7 497.3,390.7 500,389.8 M745.9,412.2 751.8,407.3 757.7,401.5 765.5,397.6 772.3,391.7 777.2,384.9 779.1,380 M783,381 784,385.9 787.9,391.7 792.8,397.6 795.7,403.4 796.7,407.3 794.8,413.2 792.8,419.1 790.9,424.9 788.9,430.8 787,436.6 785,442.5 783,448.4 781.1,454.2 778.2,457.1 772.3,457.7 766.4,458.1 M787.9,432.7 794.8,436.6 800.6,440.5 M800.6,440.5 808.4,436.6 816.2,433.7 826,431.8 835.8,430.8 845.5,430.4 855.3,429.8 860,428.8 M800.6,440.5 796.7,448.4 792.8,454.2 787.9,461.1 796.7,464 803.6,465.9 802.6,471.8 800.6,475.7 796.7,478.6 794.8,480 M758.6,436.6 761.6,437.6 763.5,441.5 762.5,447.4 761.6,452.3 760.6,457.1 M765.5,458.1 766.4,464 768.4,469.8 770.4,475.7 772.3,480 M759.6,458.1 761.6,465.9 764.5,473.8 766.4,480 M754.7,435.7 756.7,432.7 755.3,429.8 751.8,426.9 748.9,423.9 746.9,420 745.9,416.1 745,412.2 M346.1,500 343.9,504.3 340.7,508.6 339.6,512.5 M394.4,541.9 393.4,546.2 395.5,551.6 394.4,556.9 396.6,562.3 395.5,567.7 397.7,572 400.9,574.1 398.7,578.4 393.4,579.9 386.9,581.2 381.5,581.6 378.3,584.9 372.9,586.4 371.9,590.2 372.9,594.5 369.7,596.7 365.4,598.8 360.1,601 354.7,604.2 351.5,607.4 348.2,609.6 339.6,608.5 333.2,607.4 326.8,608.5 320.3,610.6 316,613.9 312.8,617.1 311.3,622.5 M494.2,515.4 492.7,521.9 494.9,528.3 495.5,534.8 494.9,541.2 491.6,546.6 489.5,550.9 490.6,556.3 493.8,561.6 498.1,565.9 502.4,569.2 506.7,572.4 509.9,575.6 512.1,581 515.3,587.4 517,593.9 516.3,597.7 M530.3,554.8 532.9,560.6 534.6,564.9 530.3,570.2 526,574.5 521.7,578.8 520.6,583.1 523.9,587.4 522.8,591.7 519.6,594.9 516.3,597.7 M516.3,597.7 520.6,602.5 523.9,608.9 525.6,615.4 526,621.8 M674.8,528 675.9,532.3 679.1,536.6 680.2,543 681.2,547.3 684.5,552.7 688.8,560.2 693,568.8 697.3,577.4 701.6,586 705.9,594.6 710.2,603.2 714.5,611.8 718.8,621.5 M764.4,481.8 770.4,487.2 776.8,491.5 783.7,496.9 M775.8,476 779,482.9 782.2,490.4 783.7,495.8 M783.7,496.9 789.7,494.7 796.2,491.5 797.2,485 798.3,478.6 802.6,474.3 804.8,470 M770.4,623.6 781.1,616.1 791.9,608.6 802.6,601.1 813.4,593.5 824.1,586 834.8,579.6 840,576.3 M971,555.1 978.4,548.9 985.9,541.5 993.3,535.3 1000.7,529.1 1008.2,525.4 1014.3,524.2 1016.8,516.7 1014.3,506.8 1013.1,496.9 1015.6,488.3 1018.1,483.3 M971,555.1 972.3,561.3 976,566.3 977.2,572.5 M915.3,596.5 916.1,603.4 912.8,609.6 910.4,614.5 907.9,618.7 906.7,622 M820,594 829.9,587.3 839.8,580.6 849.7,573.7 860.8,565.8 M472.8,240 473.9,243.2 474.4,246.4 476,249.6 476.6,252.8 475.5,256.1 474.4,258.7 472.8,259.8 471.8,261.4 471.2,264.1 470.7,266.8 M365,310.7 362.7,314.2 362.1,316.5 363.9,318.5 366.2,320.6 368.5,320.8 370.5,322.3 373.2,323.5 375.5,322.9" fill="none" stroke="#4a4a4a" stroke-width="0.75" stroke-linejoin="round"/>
<path d="M117.2,117.8 114.8,122.1 112.9,126.6 113.9,129.5 111.3,131.9 111.9,136.4 107,139.3 110.5,141.6 112.3,147.1 111.3,152 113.3,156.5 109.8,158 106.4,156.5 101.6,153 96.7,149.5 91.4,148.1 93.4,143.6 M103.5,161.8 107.4,163.7 108.4,168.6 105.5,172.1 100.6,174.1 97.7,176.4 95.7,179.7 90.2,178.4 84,175.4 79.1,170.9 73.2,168.6 66.4,167 62.1,166.2 M68.4,182.7 73.2,180.7 78.1,179.9 84,180.3 88.9,181.9 91.8,184.2 87.9,185.8 85,187.7 85.9,189.7 82,188.1 77.1,187.1 72.7,188.1 68.8,187.3 70.7,191.1 75.2,192 77.1,194.4 73.2,194 71.3,196.9 74.2,199.8 72.7,203.4 76.2,204.7 80.1,203.8 79.1,206.7 75.2,207.7 72.7,210 M14.6,117.8 21.5,120.7 29.3,126.6 34.2,133.4 37.1,141.2 35.2,146.1 31.2,147.1 27.3,144.2 23.4,139.3 20.5,134.4 18.6,135.4 20.5,141.2 19.5,146.1 23.4,148.1 25.4,149.1 M25.4,117.8 31.2,122.7 38.1,123.7 42,125.6 45.9,130.5 48.8,136.4 52.7,144.2 56.6,154.9 60.5,163.7 62.5,166.6 M45.3,140.3 43.4,149.1 44.5,158.8 46.9,161.2 48.4,154.9 47.9,147.1 46.5,141.2 45.3,140.3 M5.9,149.1 9.8,152 11.7,150 15.6,149.1 19.5,146.1 M7.8,155.9 11.7,156.9 14.6,155.9 17.6,156.9 15.6,159.8 11.7,161.2 13.7,164.7 10.7,167.6 11.7,171.5 17.6,172.5 19.5,170.5 M6.8,182.3 11.7,185.2 13.7,182.3 18.6,181.3 24.4,180.3 29.3,181.3 30.3,182.7 23.4,185.2 19.5,187.1 24.4,190.1 23.4,191.6 17.6,189.7 14.6,187.1 11.7,186.2 M67.4,181.9 62.5,182.3 58.6,183.8 54.7,184.2 50.8,182.7 45.9,183.8 41,185.2 43.9,190.1 47.9,194 48.8,198.9 51.8,203.8 54.7,206.7 53.7,210 M66.4,118.8 68.4,117.8 M70.3,121.7 71.3,124.6 72.7,123.7 M68.4,134.4 70.3,132.5 M78.1,117.8 80.1,119.8 84,118.8 85.9,121.7 88.9,127.6 89.8,126.6 87.5,121.7 91.8,118.2 M81.1,146.1 81.6,151 82.4,147.1 M92.8,156.5 93.8,157.3 M88.9,163.1 90.8,163.9 M27.3,169.6 32.2,170.9 M55.7,187.7 60.5,189.7 65.4,190.1 M58.6,193 62.5,195 M56.6,197.9 58.6,198.9 M95.7,183.2 96.7,184.2 M200,145.2 197.3,149.1 196.3,154.9 195.3,158.8 198.2,161.2 200,162.7 M218.6,117.8 219.5,120.7 216.6,119.8 215.2,122.1 217.2,124.6 212.7,123.7 211.7,127.2 209.8,126.6 210.2,130.5 207.4,131.1 207.8,134.4 204.9,136.4 205.5,139.3 202.3,141.2 202.9,144.8 200,146.1 201.6,148.7 199,151 196.1,154.9 198.4,158.8 200,161.2 202.9,163.1 201,165.7 203.5,167.6 201.6,169.6 203.9,172.1 202,174.1 204.3,176.8 202.9,179.3 206.8,182.3 208.2,178.8 210.7,179.5 212.1,176.4 215.6,176.8 216.6,173.5 221.1,173.7 221.9,170.2 226.4,169.6 227,165.1 229.3,166.2 232.2,162.7 234.8,164.3 237.1,161.2 240,162.3 242,158.8 244.5,159.8 245.9,155.9 248.4,156.9 249.8,152 251.8,153.9 253.7,150.6 255.7,152 257.6,150 260.5,152.6 263.5,151 265.4,152 266.8,149.1 269.3,150.2 267.4,153.9 265.4,155.9 267.4,157.3 271.3,155.3 274.2,156.5 277.1,156.1 282,154.5 286.9,152 291.8,149.1 296.7,148.3 298.2,143.2 299.6,148.3 304.5,150.2 311.3,151.4 317.2,152.2 323,150.6 328.9,148.3 334.8,146.3 337.7,145.5 M337.7,145.5 334.8,143.6 328.9,142.2 325,140.3 322.1,139.3 320.1,136.4 318.2,133 322.1,131.5 323,134.4 326,133.4 328.9,136.4 332.8,137.3 334.8,133.4 332.8,129.5 329.9,126 330.5,122.1 327.9,118.8 M336.7,117.8 339.6,120.7 339.1,123.7 341.6,124.6 343.6,128.6 344.5,132.5 342.6,137.3 340.6,142.2 337.7,143.2 339.6,139.3 338.3,136.4 M348.4,117.8 346.5,121.7 344.5,125.6 343.6,128.6 M356.2,117.8 352.3,118.8 350.4,120.7 347.5,119.8 M325,128.6 327.9,130.5 327,133.4 M322.1,135.4 325,137.3 328.9,139.3 M382.6,150.4 386.5,148.1 M312.3,185.2 315.2,182.3 317.2,183.8 319.1,180.3 321.5,181.9 323,179.3 325,182.3 323.4,184.2 326,186.2 324,189.1 321.1,187.7 319.1,189.7 317.2,187.1 315.2,189.1 313.3,188.1 314.3,191.1 311.3,193 315.2,192 317.2,193.6 319.1,190.1 322.1,193 325,190.1 327,188.1 328.9,187.1 331.2,189.7 332.8,188.1 335.2,190.1 336.7,188.1 339.6,190.5 341.6,188.5 343.6,189.7 345.5,187.3 347.5,187.1 349.4,190.5 352.3,189.7 352,193 354.3,195 355.3,198.9 354.3,201.4 355.5,203.4 353.3,206.7 350.4,210 M311.3,193 314.3,195 317.2,195.9 315.2,199.8 312.3,201.8 315.2,204.7 318.2,205.7 320.1,208.6 322.1,210 M340.6,184.6 341.4,185.2 M459.6,210 460.9,205.7 459.6,203.8 462.1,201.8 460.9,198.9 463.5,197.9 462.1,195.5 464.5,194 462.9,191.6 465.4,190.1 464.1,187.1 466.4,185.2 464.8,182.7 467.4,181.3 465.6,178.8 468.4,176.4 467.4,172.9 470.3,170.9 468.8,168.2 471.9,166.6 470.3,164.3 473.2,162.7 472.3,159.8 475.8,158.8 474.2,155.3 477.3,153.9 476.2,150.6 479.1,150 478.1,147.5 481.1,147.1 480.5,144.2 483.6,143.6 483,140.9 485.9,139.3 485.5,137 488.9,136.4 488.3,133.8 491.4,133.4 491.8,131.1 494.7,131.5 496.7,129.1 498.6,131.1 500.6,128.6 502.5,131.5 505.5,129.1 507,131.9 509.4,128.9 511.7,130.5 509.4,133 512.3,134.4 515.2,132.5 517.2,134.4 519.1,132.7 522.1,131.9 M458.6,182.3 461.5,178.4 463.5,174.5 466.4,168.6 468.4,165.7 467.4,162.7 469.3,160.8 M462.1,176.4 465.4,172.5 467.4,168.6 471.3,165.7 473.8,161.2 M464.5,195.9 466.8,192 468.4,187.1 470.7,182.3 472.3,176.4 473.8,170.5 475.2,166.6 M466.4,168.6 470.3,166.6 472.3,168.6 474.2,167.6 M477.1,154.9 480.1,152 483,149.1 485,145.2 487.9,142.2 490.2,139.3 493.4,136.4 495.7,134.4 M478.1,152 482,148.1 485.9,143.2 489.8,139.3 M475.2,157.9 478.1,156.5 481.1,153.9 483,151 M461.5,203.8 463.5,200.8 465.4,196.9 467.4,193 M462.9,207.7 465.4,204.7 467.4,200.8 468.4,196.9 M522.1,131.9 527,130.5 534.8,129.5 542.6,129.9 550.4,131.1 556.2,133 560.2,136.4 562.1,140.3 561.1,144.2 558.2,148.1 554.3,151 549.4,153 544.5,154.5 539.6,155.3 535.7,156.5 532.8,156.9 536.7,158.8 542.6,158.8 548.4,161.2 554.3,164.7 556.2,168.6 561.1,170.5 567,170.9 569.9,168.6 569.5,165.7 566,163.7 561.1,163.1 559.8,161.2 563.1,158.8 568,156.9 571.9,155.9 573.8,156.9 572.3,153.9 568.9,149.1 566,144.2 565.6,139.3 567,136.4 570.9,134.4 574.8,135.4 576.8,134.4 573.8,130.5 570.9,126.6 568,123.7 565,120.7 561.1,118.2 557.2,117.8 M569.9,117.8 571.9,121.7 575.8,122.7 579.7,119.8 580.7,117.8 M567,133.4 568.4,134.4 M572.9,155.3 574.2,156.5 M501.6,210 500.6,203.8 502,200.8 501.2,195.9 502,192 501.2,190.1 503.5,187.1 505.5,185.2 509.4,183.2 513.3,182.7 516.2,185.2 518.2,188.1 516.8,192 515.2,195.9 514.8,199.8 513.7,203.8 513.3,206.7 512.3,210 M482,180.3 486.9,184.2 M481.1,187.1 484,190.1 486.9,192 M478.1,195.9 485,199.8 M475.2,200.8 480.1,203.8 M480.1,201.8 484,205.7 M484,168.6 486.9,169.6 M485.9,189.1 487.5,193 M533.8,135 535.2,139.3 536.7,142.8 M528.9,144.8 530.5,149.1 531.2,152 529.3,151 528.9,148.1 M508.4,143.2 509.4,149.1 511.3,146.1 510.4,143.2 508.4,143.2 M521.1,144.2 520.1,149.1 M507.4,157.9 513.3,156.5 513.7,157.3 507.8,158.8 M544.5,134.4 545.5,135.4 M536.7,144.2 539.1,146.7 M534.8,151 537.7,152 M540.6,151.4 544.5,150.6 M532.8,155.9 534.8,159.8 532.8,162.7 535.7,161.8 536.7,164.7 534.8,166.6 537.7,167 539.6,164.7 542.6,165.7 545.5,163.7 543.6,162.3 540.6,163.1 539.1,161.2 536.3,160.4 M542.6,162.7 546.5,163.1 545.5,165.7 542.6,166.6 M533.8,165.7 536.7,168.2 539.6,168.6 M518.2,168.6 520.1,170.5 M523,169.6 525,172.5 M519.5,173.5 521.1,176.4 M528.9,170.5 530.5,172.1 M537.7,175.4 540.6,174.5 543.6,175.4 541.6,177.4 M544.5,178.4 546.5,180.3 M539.6,180.3 541.6,182.7 M527,190.1 529.9,189.1 532.8,190.5 536.7,188.1 539.1,185.8 537.7,189.1 534.8,191.6 530.9,192 527.9,191.6 527,190.1 M539.6,194 542.6,193.6 545.5,195.5 548.4,194.4 550.4,196.9 548,198.9 544.9,197.9 542.2,196.3 539.6,194 M528.9,200.8 531.8,198.9 534.8,201.8 536.7,199.5 539.6,201.8 537.7,204.7 540.6,205.7 542.6,203.4 545.5,204.7 548.4,201.8 550.4,204.7 549.4,207.7 546.5,208.6 543.6,207.3 540.6,208.6 537.7,207.3 534.8,208.6 531.8,206.7 528.9,204.7 528.9,200.8 M532.8,203.8 535.7,203.4 538.3,201.8 M541.6,199.8 544.5,200.8 546.9,202.8 M534.8,206.7 536.7,210 M543.6,208.6 545.5,210 M556.2,163.7 557.8,165.7 M555.3,180.3 556.2,181.9 M557.2,183.8 559.2,182.7 561.1,184.2 559.8,186.2 557.8,185.8 557.2,183.8 M559.2,178.4 562.1,178 565,179.9 563.7,181.3 560.5,180.3 M564.1,187.1 567,185.2 569.9,186.6 572.9,188.1 571.5,190.5 568.4,190.1 566,191.6 564.5,189.7 564.1,187.1 M567,192 569.9,193.6 572.9,193 575.8,192 578.7,193.6 581.6,195.9 582.6,198.3 579.7,197.9 576.8,198.9 575.8,200.8 573.8,197.9 570.9,195.9 568,195 M576.8,173.5 578.7,174.5 M582.6,181.9 584.6,183.2 M590.4,185.8 592.4,187.3 M595.3,190.1 598.2,193 M593.4,197.9 595.3,200.2 593,201.8 591.4,199.8 593.4,197.9 M587.5,194 588.5,195.9 M576.8,183.8 578.1,186.2 M554.3,190.5 556.2,191.6 M559.2,197.5 561.1,198.3 M563.1,197.9 565,198.9 M552.3,184.2 554.3,183.2 M562.1,205.7 566,206.7 569.9,208.6 571.9,210 M556.2,207.7 559.2,206.7 562.1,205.7 M661.5,129.5 665.4,132.5 667.4,135.4 669.3,138.3 668.4,141.2 671.3,139.3 673.2,140.9 675.2,138.9 677.1,140.9 679.1,139.3 682,141.2 M676.2,148.1 680.1,149.1 682,153 680.5,155.9 681.1,158.8 M683,173.5 685.9,168.6 687.9,167.6 M684,170.5 686.9,171.5 M681.1,178.4 683,181.3 681.1,185.2 678.1,189.1 675.2,191.1 677.1,195.9 680.1,199.8 683,202.2 685.9,199.8 688.3,204.1 691.4,205.7 690.8,207.7 M685.9,197.9 687.5,200.2 M690.8,201.8 691.8,205.3 M653.7,203.4 655.7,199.8 656.6,197.9 658.6,195.9 661.5,194.4 M633.2,199.5 635.2,203.8 638.1,205.3 641,207.7 M600,197.9 605.9,198.9 M600,206.7 605.9,207.7 609.8,210 M621.5,207.7 625.4,208.6 M713.3,135 715.2,136.4 M751.4,123.3 753.3,127.2 M761.1,131.1 765,133 M772.9,139.3 776.8,141.6 M739.6,162.3 742.2,165.1 743.6,162.7 M796.3,182.7 798.2,181.9 799.2,184.2 796.9,186.6 796.3,184.2 M799.2,190.1 796.3,191.6 M800,194 798.2,196.9 798.8,200.2 800,201.8 M800,182.2 802.2,178.9 804.4,180 804.8,185.5 803.3,189.8 804.4,193.1 808.8,192.7 813.1,195.3 817.5,197.5 819.2,200.8 816.4,203 812,201.9 807.7,199.7 805.5,201.9 808.8,205.2 810.5,209.5 807.7,210.6 804.4,208.4 801.1,205.2 800,204.1 M800,196.4 804.4,197.5 809.8,199.7 M882,150.5 884.2,153.8 883.1,160.3 879.8,164.7 876.6,169.5 878.8,167.3 882.7,162.5 886.4,160.8 884.2,159.2 885.3,154.8 883.6,151.6 882,150.5 M806.6,175.6 808.3,178.2 M970.2,137.3 977.2,138.4 976.1,139.8 972.8,138.4 M988.1,132.5 990.8,133.6 989.2,134.5 M977.6,119.8 978.9,120.9 M894.1,150.5 896.2,152.7 895.2,151.6 M901.7,133 903.9,131.9 902.8,134.5 M897.3,138 899.5,136.7 M45.9,207.3 48.8,209.9 47.9,212.8 51.8,214.8 55.7,214.4 58.6,216.7 62.5,218.7 59.6,220.6 56.6,221.6 55.7,224.5 57.6,229.4 60.5,230.4 64.5,228.4 67.4,225.5 70.3,223.6 72.3,220.6 69.3,219.6 70.3,216.7 74.2,217.7 75.2,214.8 72.3,212.8 74.2,209.9 78.1,208.9 80.1,206 M52.7,207 55.7,208.9 54.7,211.8 58.6,212.8 M49.8,210.9 52.7,212.8 56.6,213.2 M58.6,216.7 61.5,215.7 64.5,217.7 67.4,216.7 M311.7,202.9 313.7,201.6 315.6,205.9 319.5,208.8 321.5,211.7 326.4,214.1 331.2,214.1 334.2,212.9 337.1,213.3 342,210.7 346.9,208.8 350.8,205.9 353.7,202.3 355.7,200 M376.6,238.7 379.1,237.1 381.6,238.1 380.5,241 379.1,242 378.1,240 376.6,238.7 M378.1,244.9 379.1,246.9 M377.7,238.1 380.1,239.1 379.1,241 M405.5,256.6 407.4,254.7 408,257.6 406.4,260.5 405.5,263.5 404.5,261.5 405.5,258.6 407,256.6 M405.9,258.6 407,260.9 M394.7,272.3 396.7,270.3 397.7,272.7 395.7,275.2 394.7,272.3 M395.3,273.2 396.9,271.9 M384,278.1 386.9,277.1 391.8,277.7 394.7,278.1 393.8,281.1 390.8,283.6 388.9,286.9 391.8,285.9 396.7,286.9 400.6,287.9 401.6,290.8 399.6,294.7 397.7,297.7 395.7,300 M369.3,291.8 370.3,286.9 372.3,282 375.2,279.1 378.1,277.7 377.1,281.1 375.2,284 373.8,287.9 373.2,291.8 375.2,288.9 377.1,285.9 M384,278.1 382,282 383.6,284 380.1,285.9 381.1,288.9 379.1,289.8 378.1,293.8 379.7,295.7 377.1,297.7 376.2,300 M370.3,295.7 373.2,296.7 375.2,298.6 M372.3,285.9 374.2,285 M371.3,289.8 372.7,288.9 M378.1,288.9 380.5,291.8 379.1,295.3 M374.2,293.8 376.6,291.8 377.7,294.7 M465,200 464.1,203.9 462.1,207.8 459.2,210.7 460.2,213.7 456.2,217.6 454.3,221.5 451.4,224.4 449.4,228.3 446.5,231.2 444.5,234.2 441.6,236.1 439.6,238.1 437.7,240 436.3,243.9 437.1,247.9 436.3,251.8 437.7,255.7 438.7,259.6 439.6,263.5 440.6,267.4 442.2,271.3 444.1,275.2 446.5,278.1 449.4,280.5 453.3,281.1 457.2,279.7 460.2,277.1 463.1,274.2 465.6,270.3 467,266.4 468,262.5 467.6,258.6 M450.4,221.5 454.3,219.5 458.2,216.6 461.1,213.7 M445.5,232.2 449.4,229.3 453.3,226.4 456.2,222.5 M440.6,242 444.5,240 448.4,238.1 451.4,235.2 M437.7,248.8 442.6,247.9 446.5,248.8 449.4,246.9 M439.6,256.6 443.6,255.7 446.5,257.6 M440.6,264.5 444.5,262.5 447.5,259.6 M443.6,270.3 445.5,267.4 M436.7,245.9 439.6,244.9 441.6,246.9 M437.3,253.7 440.6,252.7 442.6,254.7 M439.1,261.5 442.2,259.6 M441,268.4 443.6,265.4 M438.3,258.6 441,258.2 M463.1,204.9 466,202.9 M460.2,211.7 463.1,209.8 M456.2,219.5 459.2,217.6 M469.9,218.6 472.9,220.5 473.8,219.5 M476.8,221.5 479.7,224.4 482.6,226.4 M479.7,216.6 482.6,218.6 M475.8,239.1 478.7,241 M484.6,243.9 488.5,245.9 M464.1,246.9 467,249.8 468.9,251.8 M454.3,240 456.2,241 M500,211.7 495.3,217.6 493.4,223.4 494.3,229.3 495.3,235.2 497.3,241 500,245.9 M468,229.3 469.5,234.2 470.9,239.1 472.9,243.9 M471.9,205.9 474.8,208.8 477.7,210.7 M481.6,207.8 484.6,210.7 M509.8,200 508.8,205.9 507.8,211.7 509.8,217.6 511.7,223.4 514.6,229.3 516.6,234.2 518.6,238.1 515.6,240 512.7,242 511.7,244.9 514.6,245.9 518.6,243.9 523.4,242 528.3,240 533.2,237.1 539.1,234.2 544.9,231.2 550.8,228.3 556.6,225.4 560.5,224.4 M560.5,224.4 557.6,227.3 555.7,231.2 556.6,235.2 553.7,238.1 548.8,240 543.9,242 539.1,243.9 536.1,246.9 534.2,249.8 532.2,251.8 533.6,255.7 534.2,258.6 538.1,262.5 542,266.4 545.9,265.4 546.9,260.5 544.9,255.7 542,253.7 M534.2,258.6 532.2,264.5 531.2,270.3 532.2,276.2 534.2,280.1 536.1,284 537.1,287.9 538.1,291.8 536.1,293.8 535.2,296.7 534.2,300 M555.7,205.9 558.6,204.9 564.5,205.9 568.4,207.8 571.3,211.7 571.9,215.6 569.3,219.5 566.4,218.6 562.5,216.6 558.6,215.6 556.2,212.7 555.3,208.8 555.7,205.9 M600.6,206.8 602.5,205.9 606.4,208.8 611.3,208.8 612.3,211.7 610.4,214.6 606.4,214.6 603.5,213.7 600.6,212.7 600,209.8 600.6,206.8 M601.6,205.9 600.6,208.8 M602.5,208.8 605.5,210.7 M553.7,239.1 555.7,238.1 557.6,240 559.6,243.9 561.5,246.9 562.9,248.4 560.9,248.8 558.6,246.9 556.2,243.9 554.3,241.4 553.7,239.1 M574.8,234.2 577.1,233.2 579.1,234.8 577.7,237.1 575.2,237.1 574.8,234.2 M589.8,238.7 591.8,240 M578.1,246.9 578.9,248 M550.8,248.4 552.3,250.4 M611.7,219.5 613.3,219.1 613.7,223.4 M610.4,230.3 612.3,229.3 611.3,235.2 609.8,236.1 610.4,230.3 M634.8,201 636.7,202.9 639.6,204.9 640.6,207.8 638.7,206.8 635.7,203.9 633.8,202.9 M621.1,206.8 623,207.8 625,208.8 622.1,209.8 621.1,206.8 M654.3,202.9 656.2,201 M527.3,205.9 530.3,203.9 533.2,206.8 531.2,209.8 534.2,211.7 532.2,214.6 535.2,216.6 533.2,219.5 536.1,221.5 M535.2,202 538.1,204.9 536.1,207.8 539.1,209.8 538.1,212.7 541,214.6 539.1,217.6 542,219.5 M542,201 543.9,203.9 546.9,202.9 545.9,206.8 548.8,208.8 546.9,211.7 549.8,213.7 547.9,216.6 545.9,218.6 M523.4,217.6 526.4,216.6 528.3,219.5 525.4,221.5 527.3,224.4 530.3,222.5 M539.1,205.9 542,206.8 543.9,209.8 542,211.7 M531.2,201 533.2,202.9 M544.9,219.5 547.9,221.5 550.8,220.5 M537.1,220.5 539.1,223.4 542,222.5 M519.5,207.8 520.5,209.8 M518.6,230.3 520.5,231.2 M529.3,207.8 531.2,205.9 532.8,208.8 M533.6,203.9 535.2,205.9 534.2,208.8 536.7,210.7 M540,202 541.4,204.9 543.4,205.9 M543.9,211.7 545.3,214.6 543.9,216.6 M531.2,211.7 529.3,213.7 530.9,216.6 M536.1,213.7 537.5,215.6 M527.7,210.7 529.3,212.1 M545.9,204.9 547.9,205.9 M525.4,219.5 523.8,221.9 M532.2,218.6 534.2,217.6 M548.8,217.6 551.2,218.6 552.7,221.5 550.8,223.4 M511.7,242 514.6,241 517.6,242 521.5,240 525.4,239.1 529.3,238.1 527.3,241 523.4,242.6 519.5,243.9 516.6,243.4 513.7,244.5 M512.7,243.4 516.6,242 520.5,241.4 524.4,240.6 M514.6,244.9 517.6,244.5 M529.3,250.8 532.2,248.8 535.2,249.8 534.2,252.7 531.2,253.7 529.3,250.8 M531.2,255.7 534.2,254.7 536.1,256.6 534.2,259.6 531.2,258.6 531.2,255.7 M679.7,201 683.6,202.9 688.5,203.9 691.4,206.8 693.4,210.7 695.3,215.6 697.3,219.5 700,221.5 M692.4,229.3 693.4,235.2 696.3,239.1 700,242 M695.3,262.5 698.2,263.5 700,262.9 M585,274.6 585.5,275.4 M562.5,261.5 563.3,262.5 M570.7,279.1 571.5,280.1 M556.2,285.9 557,286.9 M548.8,256.6 549.8,257 M536.1,288.3 538.1,291.8 539.1,290.2 M748.8,258.6 749.8,252.7 751.2,245.9 752.3,239.1 756.6,234.2 760.5,231.2 763.5,229.7 766.4,230.3 769.3,233.2 771.9,236.1 774.2,239.1 776.2,241.4 778.1,239.1 775.2,242 773.2,245.3 771.3,247.9 769.9,251.2 770.3,254.7 773.2,255.7 777.1,255.1 774.2,257.6 771.3,259.6 770.7,262.9 773.2,264.1 777.1,262.9 781.1,263.5 785,264.8 788.9,266 792.8,264.5 796.7,262.9 799.6,260.5 801.6,262.1 803.5,265.4 806.4,268 810.4,269.3 814.3,271.3 817.2,273.2 821.1,275.8 825,278.1 828.9,277.1 830.9,275.2 834.8,277.1 838.7,278.1 842.6,279.1 846.5,281.1 850.4,284 854.3,286.9 858.2,289.5 861.1,290.8 862.5,292.8 861.1,295.7 859.2,298.6 857.8,300 M748.8,258.6 747.9,264.5 748.4,269.3 746.9,271.3 748.8,274.2 749.8,278.1 751.2,282 752.3,285 756.6,284.4 761.5,283.6 763.5,285.9 764.5,288.9 768.4,290.2 774.2,291.4 780.1,292.2 785.9,293.8 791.8,294.7 797.7,295.7 803.5,296.1 807.4,294.1 809.4,292.8 808.4,295.7 807,300 M808.4,259.6 811.3,257.6 815.2,256.6 820.1,257 825,257.6 827.9,259.6 827,263.5 825,267.4 822.1,269.9 818.2,270.3 814.3,268.4 811.3,267.4 809,264.5 808.4,259.6 M827,231.2 829.9,229.3 833.8,229.7 834.8,232.2 833.2,235.2 830.5,236.1 827.9,234.2 827,231.2 M800.6,201 803.5,202 807.4,204.9 810.4,207.8 809.4,210.2 806.4,208.8 803.5,205.9 801.2,202.9 800.6,201 M810.4,200 815.2,202 819.1,202.9 818.2,200 M700,262.5 702,265.4 701,269.3 702.9,273.2 702,277.1 704.9,278.1 705.9,280.1 702.9,283 702,285.9 M725,211.7 726.4,212.9 M737.1,215.2 738.7,216 M731.2,233.2 734.2,232.2 733.6,234.2 731.2,233.2 M721.5,241 723.8,240.6 723,242.2 721.5,241 M700,244.5 702.9,242 M766.4,258.6 768.4,258.2 767.4,260.9 766,260.2 M752.7,252.7 753.9,253.5 M753.1,271.3 753.9,271.9 M756.6,280.1 757.4,280.9 M834.8,282 836.7,284 839.1,285 M832.8,275.2 834.8,276.6 M746.9,270.3 748.4,271.9 M762.5,284 763.7,286.9 M376.6,386.8 380.5,384.8 385.4,383.9 390.3,384.8 395.2,385.2 398.1,383.9 397.1,380.9 394.2,379 395.2,376.1 398.1,374.1 401.1,373.5 403,376.1 405.9,377 410.8,376.6 413.8,375.1 416.7,373.1 419.6,371.2 422.5,369.2 424.5,366.3 425.5,362.4 427,359.5 M376.6,386.8 378.6,388.8 377.6,391.7 380.5,392.7 384.5,393.6 388.4,394.6 M395.2,375.1 396.2,376.1 M397.1,379 398.1,380 M378.6,386.8 380.5,387.8 379,389.1 M427,359.5 430.4,357.1 433.3,354.6 436.2,352.6 439.1,350.7 441.1,346.8 443,341.9 444,337 446,333.1 448.9,331.1 452.8,330.2 456.7,329.2 459.6,327.2 462.6,326.2 465.5,325.3 467.5,323.3 M467.5,323.3 469.4,324.3 471.4,325.3 M445,338.9 447,337 448.9,338.4 449.9,341.9 447.9,343.8 446,342.9 445,338.9 M436.8,351.6 438.8,350.7 439.5,353.2 437.6,354 436.8,351.6 M437.2,352.6 439.1,352 M502.6,316.5 505.5,313.6 509.5,310.6 513.4,307.7 517.3,304.8 520,301.8 M492.9,323.3 493.4,324.3 M494.8,335 495.8,335.6 M498.7,333.1 499.3,333.7 M508.5,385.8 509.8,386.8 M479.2,389.7 483.1,390.7 M501.6,392.7 505.5,393.6 M463.6,310.6 465.5,314.5 466.5,317.5 M460.6,320.4 462.6,322.3 M484.1,322.3 485,323.3 M500,316.2 503.9,314.3 507.8,311.4 511.7,307.5 515.6,303.6 519.5,301 524.4,299.6 528.3,301.6 531.2,302.6 534.2,300.6 535.2,297.7 M535.2,297.7 536.1,293.8 537.1,289.9 537.5,286 539.1,289.9 540,293.8 538.1,294.8 M500,301.6 502.3,302.2 502.9,304.1 501,304.5 500,303.6 M544.9,299.6 546.9,303.6 548.4,304.5 546.5,304.1 M534.8,308 535.5,309.4 M500,316.2 502,318.2 503.5,320.2 501.6,319.8 M639.1,362.1 637.7,358.2 639.6,354.3 639.1,350.4 640.6,346.5 643.6,343.6 646.5,344.6 649.4,343.2 652.3,342 656.2,340.7 659.2,338.7 662.1,336.2 666,334.8 669.9,335.4 673.8,336.8 677.7,337.7 680.7,336.2 M661.1,337.7 659.2,342.6 657.2,348.5 662.1,349.5 667,350.4 669.9,353.4 672.9,354.3 674.8,350.4 676.8,346.5 678.7,342.6 680.7,339.7 683.6,337.3 687.5,334.8 692.4,332.9 696.3,332.3 700,331.5 M668.9,332.9 669.9,328.9 671.9,325 674.8,321.1 677.7,317.2 680.7,313.3 683.6,308.4 685.5,304.5 688.5,302.6 689.5,304.5 687.5,309.4 688.5,314.3 690.4,317.2 691.4,321.1 690.4,325 688.5,328.9 685.5,330.9 682.6,332.9 679.7,334.8 676.8,336.2 672.9,335.8 668.9,333.8 M662.1,334.8 665,336.2 668,337.3 671.9,338.1 675.8,337.3 678.7,335.4 M666,333.8 669.9,336.2 673.8,336.2 M654.3,330.9 655.3,326 656.2,322.1 659.2,319.2 661.7,316.6 662.1,318.2 659.8,321.1 657.2,324.1 656.2,328 655.9,331.5 M628.9,312.3 634.8,311.4 639.6,312.3 636.7,313.9 630.9,313.9 628.9,312.3 M642.6,311.4 647.5,310.8 651.4,311.4 646.5,312 M624,310.4 625,312 M602.5,328.9 603.5,330.3 M641.6,336.2 644.5,341.6 646.1,344.6 647.5,341.6 650.4,337.7 M642.6,337.3 645.5,339.7 648.4,342.6 M639.1,362.1 637.7,365.1 636.7,369 635.7,372.9 636.7,376.8 639.1,380.7 640.2,385 M638.3,357.3 639.6,362.1 639.1,365.1 M678.7,385 682.6,380.7 688.5,376.8 694.3,372.9 697.3,370 700,370.9 M544.9,384.6 547.9,381.7 M502,331.9 502.3,332.7 M505.5,336.2 506.2,337 M555.7,286 556.6,287.3 M567.4,287.9 568.4,289.3 M690,332.9 695.9,331.9 701.7,332.3 709.5,331.9 717.3,331.5 725.2,330.3 732,329.9 736.9,330.9 740.8,333.8 743.1,337.7 744.3,342.6 743.1,347.5 740.8,352.4 737.9,356.3 733.9,360.2 729.1,363.1 724.2,365.5 719.3,367 714.4,368.6 709.5,369.4 704.6,370.9 699.8,370.5 694.9,372.5 690,374.8 M690,316.2 691.6,319.2 691,323.1 692,327 690,328 M752.5,285 757.4,286 762.3,287.9 767.1,290.9 772,292.8 777.9,293.8 783.8,294.4 789.6,294.8 795.5,295.2 801.3,294.4 806.2,293.8 809.1,292.8 807.2,295.7 806.2,299.6 807.2,303.6 809.1,306.5 812.1,310.4 813.4,312.7 815,315.3 817.9,318.2 820.9,320.5 824.8,322.1 828.7,321.7 831.6,319.8 834.5,317.8 838.4,316.6 842.3,315.9 846.2,314.3 850.2,311.4 854.1,307.5 857,303.6 859.5,298.7 861.5,293.8 862.3,291.8 M852.1,286 856,287 859.9,289.9 862.3,291.8 M775,325 777.9,324.1 780.8,325 781.8,327 778.9,327.6 775.9,327 775,325 M795.5,344.6 798.4,343.6 801.3,345.5 804.3,346.5 807.2,348.5 807.2,351.4 804.3,351.8 801.3,349.5 798.4,347.9 796.4,346.5 795.5,344.6 M775.9,350.4 777.9,349.5 779.5,352.4 780.8,356.3 779.8,359.2 776.9,360.8 774,361.2 773,358.8 775,355.3 775.9,350.4 M744.7,378.8 748.6,376.8 752.5,375.2 754.5,376.4 750.5,378.4 746.6,380.3 744.7,378.8 M745.7,382.7 750.5,383.6 748.6,385 M779.8,313.9 785.7,311.4 M830.6,373.9 832.6,376.8 M892.9,383.8 894.5,379.8 898.6,378.2 902.6,375.8 908.2,376.6 914.6,376.9 919.4,378.2 924.3,379.8 929.1,381.1 933.9,381.7 938.7,380.6 943.5,377.4 948.3,375.3 953.2,373.4 958,372.1 962.8,370.2 966.8,367.7 970.8,364.5 973.2,361.3 974.8,357.3 975.3,352.5 976,347.7 977.3,343.7 979.7,339.6 982.1,337.2 986.1,336.4 990.1,337.7 994.1,339.6 998.1,341.2 1001.4,339.6 1004.6,336.4 1007.8,332.4 1010.2,330 M987.7,346.1 989.3,348.5 990.9,351.7 993.3,354.1 996.5,355.7 998.1,354.9 M987.7,346.1 988.5,350.9 990.1,355.7 990.9,362.1 991.7,368.6 993.3,375 994.9,379.8 995.7,384.6 994.1,390.2 990.9,394.3 988.5,397.5 986.1,400.7 983.7,403.9 982.1,407.1 979.7,409.5 976.5,411.1 973.2,412.2 970.8,411.1 969.2,408.7 966,410.3 M952.4,399.9 954.8,397.8 958,397.5 961.2,399.9 964.4,403.1 966.8,406.3 967.9,410.3 966,413.5 962.8,413.8 959.6,412.7 956.4,409.5 954,405.5 952.4,399.9 M966,410.3 962.8,414.3 958,413.5 953.2,411.9 948.3,411.1 944.3,409.5 941.1,407.1 937.9,405.2 933.9,404.2 929.1,404.7 924.3,405.5 919.4,407.1 915.4,405.2 911.4,404.2 906.6,403.1 901.8,401.5 896.9,400.4 893.7,399.1 892.9,395.9 892.1,392.6 892.9,389.4 892.1,386.2 892.9,383.8 M891.3,393.4 893.7,394.3 894.5,395.9 892.1,396.2 891.3,393.4 M892.1,381.4 894.1,380.6 894.5,383 892.9,383.8 892.1,381.4 M946.7,404.7 948.3,404.2 950,406.3 948,407.1 946.7,404.7 M872,396.7 874.5,394.3 877.7,391.8 880.1,391.8 878.5,394.3 875.3,396.7 872.9,398.3 872,396.7 M873.7,395.9 876.9,393.4 879,392.6 M976.5,346.1 978.1,349.3 978.9,353.3 977.3,355.7 976,352.5 M988.5,346.9 990.1,350.1 992,352.5 M992.5,378.2 994.1,383 994.6,387 M986.9,392.6 988.5,394.3 M990.9,366.9 992,370.2 M913.8,381.1 914.6,381.4 M984.5,376.9 985,377.5 M975.7,391 976.3,391.4 M979.7,391 980.5,391.4 M982.1,399.9 982.9,400.7 M978.9,406.3 979.7,407.1 M973.2,407.1 974,407.9 M943.5,408.7 945.1,410.3 M941.1,376.9 942.7,377.5 M958,373 960.4,373.7 M404.3,420 403.3,425.9 402.3,431.7 400.4,437.6 398.4,442.5 396.4,444.4 391.6,443.8 385.7,443 379.8,441.9 374,441.1 368.1,439.9 363.2,439.1 358.4,438.6 353.5,437.6 348.6,436 344.7,436.6 341.2,438.6 337.9,439.5 335.3,441.1 334.5,444.4 335.9,447.3 336.9,451.2 335.3,455.2 335.9,459.1 335.3,463.9 333.9,468.8 332,473.7 330,478.6 328.1,482.5 326.1,486.4 324.8,490.3 326.1,492.7 329.1,489.3 330.6,491.3 328.1,495.2 329.1,498.1 328.1,502 327.1,506.9 326.1,511.8 329.1,513.4 333,514.1 337.9,514.7 341.8,513.8 345.7,513.4 348.6,515.7 350.5,518.6 351.5,520 M404.3,420 406.2,422.9 407.6,426.8 M395.5,520 397.4,515.7 401.3,511.8 405.2,507.9 408.2,503 412.1,499.1 413.4,496.2 411.5,492.3 410.7,488.4 412.1,484.5 415,480.5 417,476.6 419.9,472.7 424.8,469.8 429.6,466.9 434.5,463.9 438,460 440,456.1 438.4,452.2 438,448.3 439.4,445 442.3,442.5 446.2,441.1 451.1,441.5 455,443 459.9,444.4 464.8,443.4 467.7,440.5 470.7,436.6 474.6,433.7 477.5,430.7 482.4,427.8 486.3,427.4 490,428.2 M433.6,488.4 436.5,485.4 440.4,484.1 443.9,485.4 443.3,488.4 440.4,490.7 436.5,490.3 433.6,488.4 M446.2,482.1 449.2,481.5 451.1,482.9 449.2,484.5 446.2,483.5 446.2,482.1 M423.4,495.2 425.2,494.2 426.7,496.2 425.7,498.5 424.4,499.7 423.8,497.1 423.4,495.2 M490,445.4 487.3,448.3 486.3,452.2 487.3,456.1 490,459.1 M485.3,466.9 486.3,470.8 485.3,474.7 487.3,480.5 489.2,486.4 490,488.4 M448.2,520 454.1,518.6 459.9,519.2 465.8,518.6 471.6,516.7 477.5,515.7 483.4,514.7 490,513.8 M387.7,475.7 387.3,478.2 389.2,478.6 M364.2,490.3 366.2,488.8 367.7,490.7 M358.4,482.9 363.2,483.5 M470,433.8 473.9,432.9 478.8,429.9 482.7,428 487.6,427.6 492.5,428.9 496.4,432.9 499.3,437.7 502.2,441.6 506.1,445.5 511,448.5 515.9,451.4 520.8,454.3 525.7,456.3 530.5,457.3 535.4,458.2 538.4,460.2 541.3,462.1 545.2,463.1 549.1,465.1 553,467 555.9,470.9 557.9,474.8 559.8,478.8 560.2,482.7 558.9,485 M509.1,410.4 512,407.5 514.9,406.1 517.9,407.5 515.9,411.4 513.4,414.3 511,417.2 511.4,421.1 513.9,425 517.9,427 521.8,428.9 525.7,432.9 528.6,436.8 532.5,439.7 537.4,441.6 542.3,443.2 547.1,442.6 550.1,444.6 551.1,447.5 554,449.1 558.9,450.4 563.8,452.4 568.6,453.8 572.5,454.9 575.5,456.3 576.4,458.8 573.5,459.6 570.6,457.7 566.7,456.3 563.4,456.9 561.4,459.2 561.8,463.1 564.7,465.5 567.3,468 568.6,470.9 567.3,473.9 565.7,476.8 564.7,480.7 563.4,485 M486.6,445.5 489.5,443.6 491.9,443.2 493,446.5 493.4,451.4 493,456.3 491.5,460.2 489.1,461.2 487.2,458.2 486,453.4 485.6,449.5 486.6,445.5 M485.6,467 488.6,465.1 492.5,463.5 495.4,464.7 497.3,468 498.9,472.9 499.3,478.8 498.9,485 M485.6,467 486.6,471.9 487.6,476.8 488,481.7 488.6,485 M517.9,407.5 519.8,405.5 522.3,406.5 523.7,410.4 525.7,413.3 528.6,414.3 531.5,417.2 535.4,420.2 540.3,423.1 545.2,425 550.1,426.4 555,427.6 559.8,428.9 564.7,430.3 569.6,431.5 574.5,431.9 576.4,432.9 M525.7,408.4 528.6,410.4 531.5,413.3 534.5,416.2 537.4,418.2 M528.6,409.4 530.9,412.3 533.5,415.3 M544.2,424.1 548.1,425 552,426.4 555.9,428 M547.1,426.4 551.1,427.6 555,428.9 558.9,429.5 M526.6,411.4 529.6,414.3 532.5,417.2 M538.4,421.1 542.3,422.5 546.2,424.1 M638.9,385 638.4,389.9 639.5,394.8 641.9,398.7 644.8,401.6 648.7,404.5 652.6,406.1 655.5,404.5 658.5,403 M498.3,442.6 500.3,443.6 M496.4,408.4 497,411.4 M479.8,408.4 480.7,410.4 M549.1,435.8 550.1,436.8 M544.2,441.6 545.2,442 M525.7,460.2 526.6,460.8 M534.5,459.2 535.4,460 M374.2,384.9 377.1,383.9 382,382.9 387.9,382.3 393.8,382 399.6,381.6 401.6,380 M374.2,384.9 377.1,385.9 379.1,388.8 378.1,390.7 381.1,392.7 384,394.6 386.9,396.6 388.9,395.6 389.8,398.6 392.8,399.5 395.7,400.5 396.7,403.4 395.3,406.4 397.7,409.3 400.6,411.2 402.5,414.2 403.5,418.1 405.5,422 407,425.9 405.5,423.9 403.5,419.1 M401.6,411.2 402.5,419.1 403.1,426.9 402.5,432.7 401.6,438.6 399.6,443.5 397.7,445.4 M378.1,386.8 379.7,387.8 378.5,389.4 M459.2,409.3 461.1,407.3 464.1,405.8 465,407 462.1,408.9 460.2,410.3 459.2,409.3 M479.7,389.8 483.6,390.7 485.5,392.1 482.6,391.7 479.7,389.8 M496.3,407.3 497.3,412.2 M660,404.4 664.9,401.5 669.8,398.6 673.7,394.6 676.6,389.8 679.5,384.9 682.5,381 683.8,380 M660,411.2 662.9,409.3 665.9,407.7 663.9,410.9 661,413.6 M660,444.5 663.9,443.5 667.8,445.4 670.7,447.4 674.6,449.3 678.6,452.3 682.5,453.8 687.3,455.2 691.2,454.2 694.2,452.3 696.1,449.3 695.2,446.4 696.7,443.5 699.1,442.1 703,440.9 707.9,440.5 712.7,441.5 717.6,442.1 721.5,439.6 725.4,435.7 728.4,429.8 729.9,425.9 732.3,422 735.2,419.1 738.1,416.1 740.1,414.8 742,416.1 742.4,420 744,423.9 745.9,426.9 748.9,429.8 751.8,432.7 754.7,435.7 M754.7,435.7 756.7,440.5 757.7,446.4 758.6,452.3 759.6,458.1 761.2,464 762.5,469.8 763.9,475.7 764.5,480 M722.1,453.8 723.5,450.3 726.4,447.4 729.3,445.4 731.3,442.9 733.2,439.6 735.2,436.2 736.2,435.7 735.2,438.6 734.6,442.1 737.1,444.5 735.8,447.4 733.2,448.8 731.9,451.9 729.3,454.2 726.4,455.8 723.5,455.8 722.1,453.8 M674.6,460.1 677.2,461.1 678.6,464 677.6,466.9 675.6,465.9 674.6,463 674.6,460.1 M660,448.4 662.9,451.3 664.9,454.2 M662,455.2 665.9,457.1 668.8,459.1 671.7,458.1 673.7,456.2 675.6,454.2 M664.9,457.1 666.8,460.1 669.8,461.1 M671.7,471.8 673.7,473.8 674.6,476.1 672.7,476.7 M703.4,406.4 705.9,405.4 708.8,407.3 709.8,410.3 707.9,412.2 704.9,411.2 703.4,408.3 703.4,406.4 M751.8,394.6 753.8,391.7 755.3,388.8 755.7,391.7 754.1,395.2 751.8,394.6 M744,383.9 746.9,382.3 749.8,383.5 751.8,384.3 M760.6,409.3 762.5,410.9 765.5,410.3 763.1,408.9 M814.3,393.7 817.2,394.1 820.2,395.6 820.5,398 817.8,398 815.3,396.6 814.3,393.7 M824.1,399.5 826,399.1 827,400.5 825,401.1 824.1,399.5 M828.4,403.4 831.5,402.5 834.2,403.8 833.8,406.4 830.9,407 828.9,405.4 828.4,403.4 M771.3,468.9 773.3,471.8 775.2,474.7 776.2,476.7 774.8,475.7 772.9,472.8 771.3,468.9 M764.5,457.1 765.5,458.1 M683.4,405.4 686.4,404.4 M835.8,380 841.6,382 847.5,382.9 M326.8,500 325.7,506.4 326.8,511.2 331.1,512.5 336.4,514.6 341.8,512.9 346.1,514 350.4,517.2 351.5,521.5 353.6,524.7 355.8,527.5 358.6,529 M358.6,529 360.1,525.8 363.3,523.6 369.7,521.9 376.2,521.5 382.6,521.1 389.1,520.4 394.4,517.2 398.7,514 403,511.8 406.2,507.5 409.5,503.2 411.6,501.1 412.7,500 M358.6,529.6 360.1,534.4 363.3,537.6 367.6,539.7 371.9,539.7 377.2,538.7 382.6,540.8 388,541.9 393.4,541.9 397.7,539.7 402,536.5 406.2,534.4 411.6,532.2 415.9,529 420,526.9 M355.8,530.1 353.6,534.4 350.4,540.8 347.2,546.2 342.9,550.5 337.5,553.7 331.1,555.9 324.6,558 319.2,561.2 314.9,565.5 310.6,570.9 307.4,576.3 305.3,581.6 304.2,587 305.3,592.4 303.1,597.8 299.9,602.1 295.6,606.3 290.2,609.6 284.9,611.7 278.4,613.9 272,616 265.5,616.4 261.2,617.7 258,621.4 256.9,623.5 M208.6,590.2 210.3,589.8 211.2,592.8 209.7,595 208.2,592.8 208.6,590.2 M202.6,602.7 204.7,602.3 205.4,604.2 203.2,604.8 202.6,602.7 M213.3,600.5 215.5,599.9 216.3,602.1 214.6,603.1 213.3,602.1 213.3,600.5 M218.9,599.9 223.6,599.3 228.4,598.8 226.9,601 224.1,603.1 221.5,605.3 219.8,603.1 218.9,599.9 M229.6,607.4 232.2,606.3 234.4,607.9 234.8,610.6 232.2,611.7 230.1,610.6 229.6,607.4 M246.2,610.6 249.4,607.4 252.6,604.2 254.8,601 255.9,602.7 253.7,606.3 251.6,609.6 248.3,611.3 246.2,610.6 M255.9,600.5 258.4,598.8 260.6,598.4 260.2,600.5 257.6,602.1 255.9,600.5 M231.8,544 234.4,543.4 237,545.1 236.5,547.3 233.9,546.8 231.8,544 M241.9,543 243,543.6 M238.2,549 239.1,549.8 M410,533.7 413.2,530.5 417.5,527.3 422.9,525.1 429.3,524 435.8,522.5 442.2,520.8 448.7,519.7 455.1,519.1 460.5,519.7 464.8,520.8 469.1,518.7 474.5,516.5 480.9,515.4 486.3,514.4 491.6,513.9 495.9,512.2 500.2,509.6 504.5,507.9 507.8,507.5 509.9,510.1 512.1,512.2 514.2,513.3 516.3,510.1 518.5,508.4 519.6,511.2 518.5,515.4 516.3,518.7 515.3,521.9 517.4,525.1 520.6,528.3 522.8,532.6 521.7,536.9 519.6,540.2 516.3,542.7 515.3,545.5 516.3,548.3 519.6,550.5 523.4,552 527.1,552.6 530.3,554.1 534.6,555.2 541.1,555.6 547.5,554.8 553.9,554.1 560.4,554.1 566.8,554.8 572.2,555.2 575.4,558.4 577.6,561.6 580.8,564.2 585.1,565.5 590.5,565.9 595.8,565.5 601.2,564.9 606.6,565.5 612,566.4 616.2,568.1 620.5,568.5 624.8,567 627.4,563.8 628.7,559.5 627,555.2 624.8,550.9 622.7,546.6 622.3,542.3 623.8,538 625.9,534.8 630,531.6 M529.2,495 532.5,492.9 536.8,492.5 542.1,491.2 547.5,489.7 552.9,487.5 556.1,486 557.8,488.6 557.2,492.9 557.8,497.2 558.7,501.5 558.2,504.1 553.9,503.6 549.6,501.5 544.3,501.1 538.9,499.8 534.6,499.3 530.7,498.3 529.2,495 M558.2,480 559.3,484.3 557.2,486.4 556.1,486 M564.7,480 563.6,483.2 561.5,485.4 M488.4,480 487.8,485.4 489.1,489.7 491.6,490.7 494.9,489 498.1,486.4 499.2,482.1 499.8,480 M433.6,486.4 436.9,484.3 441.2,483.9 443.9,486 443.3,489 440.1,491.2 436.9,490.7 433.6,488.2 433.6,486.4 M447,482.1 449.7,481.7 451.2,483.2 448.7,484.3 447,482.1 M423.3,495.5 425.5,494.6 426.8,496.8 425.5,498.9 424,497.6 423.3,495.5 M410,496.1 412.6,497.2 413.9,499.8 411.7,501.1 410,500.4 M527.1,509.6 528.6,510.5 M551.4,513.3 553.5,514.4 555.7,515.4 553.9,516.1 551.4,513.3 M523.9,536.3 526,534.8 525.6,537.6 523.9,536.3 M522.1,548.3 524.9,547 526,549.8 523.9,551.3 522.1,548.3 M538.5,519.1 538.9,519.7 M536.8,524 537.4,524.7 M505.6,507.9 506.7,509.6 M508.8,507.5 509.5,509.2 M620,568.8 624.3,566.7 627.5,562.4 629,557 627.5,551.6 624.3,546.3 623.2,540.9 624.7,535.5 628.6,531.2 634,527.6 640.4,525.4 646.9,524.8 651.2,526.3 653.3,528.4 658.7,527.6 664,526.3 669.4,524.8 673.7,525.4 676.9,528 681.2,525.4 686.6,523.3 693,521.6 699.5,520.5 705.9,519 712.4,517.7 717.8,516.8 721,514 724.2,509.7 726.3,505.4 728.5,502.2 731.7,500.1 734.9,497.5 739.2,495.4 743.5,494.1 747.8,494.7 751.1,492.6 754.3,491.1 757.5,488.9 760.7,485.5 762.9,481.8 763.9,477.5 764.4,473.2 763.9,470 M740.3,494.7 742.5,493.2 745.7,493.2 747.8,495.4 744.6,496.9 741.4,496.2 740.3,494.7 M729.6,501.2 732.8,497.9 M753.2,491.5 756.4,489.3 M757.5,506.5 759.2,509.7 762.9,513 768.2,516.2 773.6,518.3 779,519.8 784.4,520.5 788.7,519.8 790.8,516.2 789.7,511.9 788,507.6 786.5,503.3 785,499 783.7,495.8 M757.5,507.6 759.6,511.9 763.9,515.1 769.3,518.3 774.7,520.5 780.1,522.6 784.4,525.4 788.7,528.4 792.9,531.9 797.2,534.5 802.6,537.7 808,540.9 813.4,544.1 818.7,546.9 824.1,549.5 829.5,551.6 833.8,551.2 831.6,553.8 834.8,557 838.1,559.8 840,561.3 M790.8,516.2 791.9,513 795.1,510.8 799.4,511.2 804.8,513 810.1,515.1 815.5,517.7 820.9,519.8 825.2,521.6 828.4,523.3 831.6,524.1 834.8,525.4 840,526.9 M828,524.1 830.5,523.7 833.8,524.8 834.8,526.9 831.6,527.6 828.4,526.3 828,524.1 M641.5,489.3 644.7,487.2 649,486.8 653.3,486.1 657.6,484.6 661.9,483.3 665.1,481.8 667.7,481.2 668.3,483.3 666.2,485.5 663,487.2 659.7,489.3 655.4,491.1 651.2,491.5 646.9,491.9 643.2,492.6 641.5,491.1 641.5,489.3 M620,478.6 623.2,479.7 626.4,480.7 629.7,479.7 631.8,481.8 632.9,484.6 M624.3,472.1 627.5,471.1 630.7,472.6 629.7,475.4 626.4,476.4 M641.5,472.1 643.6,473.2 M647.9,471.1 650.1,472.1 M671.6,472.1 673.7,471.1 674.8,474.3 672.6,476.4 671.6,473.9 M752.8,502.7 756.4,503.3 754.9,503.9 M788.7,523.7 790.2,524.4 M649,495.4 650.1,495.8 M804.8,571 806.9,573.1 809.1,576.3 810.1,579.6 809.1,582.8 812.3,581.7 810.1,586 808.6,590.3 806.9,593.5 804.8,595.7 802.6,598.9 802.2,603.2 803,607.5 802.2,610.7 M805.2,572.1 806.5,576.3 808.6,580 M802.6,600 801.8,605.4 M772.5,470 774.3,473.2 775.8,476 774.7,475.4 773,472.1 772.5,470 M820,519.2 825,521.7 829.9,524.2 836.1,526.7 842.3,530.4 848.5,533.6 854.7,532.1 860.8,532.8 867,535.3 873.2,538.5 879.4,542.7 884.4,547.7 890.6,552.6 896.7,555.9 904.2,558.3 911.6,556.9 919,556.4 926.5,558.3 933.9,561.3 941.3,565 948.7,567.5 956.2,568.2 963.6,568.7 971,571.2 977.2,574.9 980.9,579.9 985.9,584.8 992.1,588.5 998.3,593.5 1004.4,598.4 1010.6,603.4 1015.6,607.1 1018.1,608.3 M820,546.5 826.2,548.9 832.4,552.6 837.3,557.6 842.3,561.3 849.7,562.5 857.1,561.8 863.3,565 869.5,570 875.7,575.7 881.9,582.4 888.1,588.5 894.3,593.5 899.2,596 906.7,595.5 914.1,595.5 919,598.4 925.2,602.2 931.4,605.4 938.8,608.8 945,612.1 951.2,615.3 956.2,616.3 961.1,613.3 968.5,612.1 978.4,611.3 988.3,612.1 998.3,612.1 1008.2,611.3 1018.1,610.8 M953.7,616.3 956.2,618.7 954.9,617 M959.9,577.4 963.6,576.2 967.3,577.4 966.1,579.1 961.6,579.9 959.9,577.4 M950,605.4 953.7,606.4 957.4,605.9 958.6,608.3 954.9,610.3 951.2,608.8 950,605.4 M984.6,586.6 987.9,587.3 987.1,589 984.6,586.6 M1000.7,600.9 1002.7,603.4 1003.7,605.4 M827.4,525.4 831.1,524.2 834.9,525.4 832.4,527.1 828.7,527.1 827.4,525.4 M872,571.2 874.5,573.2 875.7,574.9 M983.4,595.5 983.9,596.5 M961.1,578.1 966.1,577.7 M973.5,622 983.4,620.7 993.3,620.2 1003.2,620.7 1013.1,619.5 1018.1,618.3 M139.2,414.2 141.7,412.8 M154.8,435.2 156.9,438.8 159.1,440.3 157.6,436.7 154.8,435.2 M162.7,434.1 163.4,435.2 M166.3,438.8 168.5,440.3 M175.4,455.8 177.9,457.6 179.7,458.3 177.2,456.2 175.4,455.8 M175.7,467 177.2,467.7 M232.5,544.4 235.7,546.2 237.2,548 234.3,547.3 232.5,544.4 M241.5,543.7 242.3,544.4 M238.6,549.5 239.4,550.2 M322.1,210 319.1,210.6 315.2,208.6 312.3,205.7 311.7,203.4 M435.9,240 436.4,243.2 435.9,246.4 437,249.6 438,252.8 439.1,256.1 440.2,259.3 440.7,262.5 441.8,265.7 442.6,268.9 443.4,272.1 444.5,275.3 446.1,278 448.2,280.1 450.9,281.2 453.6,280.7 456.2,279.4 458.4,277.5 460.5,274.8 462.1,272.1 463.7,269.8 465.3,268.4 466.9,266.2 467.7,264.1 467.5,261.4 466.9,259.3 468,258.2 M468,258.2 468.8,260.3 469.4,263 469.8,265.7 470.7,267.3 472.3,270 473.9,272.7 475.5,275.3 477.1,278 478.7,280.7 480.3,282.8 481.9,285 483.5,287.1 485.1,289.3 486.5,291.4 487.3,293.5 487.8,295.7 488.4,298.4 488.9,301 489.4,302.6 M489.4,302.6 491.6,302.1 494.2,301.2 496.4,300 496.9,297.8 496.4,295.7 497.5,293.5 499.6,292.5 501.7,291.4 503.9,290.9 504.9,289.3 505.5,286 504.9,282.8 504.7,279.6 504.4,276.4 503.9,273.2 503.3,270 502.8,266.8 503.3,265.2 504.9,264.1 506.6,261.4 508.2,259.3 509.8,257.1 510.8,254.5 511.4,251.8 510.8,249.1 509.8,247 508.2,245.4 506.6,244.3 M510.8,242.1 513,241.1 515.7,241.6 517.8,242.7 519.9,242.1 522.1,241.1 524.2,240.5 M511.4,243.7 513.5,244.3 515.7,244.1 M512.4,242.7 514.6,243 516.7,243.4 M510.3,244.8 511.9,245.4 M507.1,276.9 508.2,277.5 508.7,280.7 508.2,285 507.6,288.2 506.6,289.3 506.2,286 506.7,281.8 507.1,276.9 M515.7,267.3 517.3,266.8 518,268.4 517.8,271.6 516.9,275.3 515.7,278 514.6,276.4 514,273.2 514.6,270 515.7,267.3 M479.8,268.4 480.9,265.7 482.5,263 484.6,261.4 486.2,261.9 487.3,263.6 486.7,265.7 485.1,267.3 483.5,269.1 481.9,271 480.3,272.1 479.5,270.5 479.8,268.4 M490.5,267.8 491.2,265.2 492.3,264.8 492.6,267.3 492.1,270.5 491.6,273.7 490.8,274.3 490.5,271 490.5,267.8 M493.7,259.3 495.8,258.2 498,257.1 500.1,256.1 502.8,255 504.9,253.7 507.1,252.3 508.7,250.7 M494.2,260.3 496.4,259.8 498.5,258.7 M503.9,252.3 504.9,254.5 506.2,256.1 507.6,255.5 509,253.4 509.8,251.2 M498.5,257.7 500.7,256.9 502.8,255.8 M504.9,252.8 506.6,253.9 508.2,252.6 M490.5,285.5 491,287.1 490.5,288.2 M496.4,287.1 497.5,288.2 M464.3,247.5 465.9,249.1 467.5,250.7 469.1,252.8 M484.1,244.3 485.7,245.1 487.3,244.8 M496.4,244.8 497.2,245.4 M494.2,272.1 495.8,273.2 496.9,272.7 M498,271.6 499.6,272.1 M440.7,248.6 443.9,248 447.1,247.5 448.7,246.4 M440.2,258.2 442.8,257.1 445.5,256.1 447.1,255 M440.7,250.7 443.4,250.2 M442.8,266.8 445,268.9 446.6,271.6 M580,420.5 581.4,423.9 580.7,427.3 582.1,431.4 581.4,435.5 582.7,439.6 582.1,443.8 584.1,447.2 586.2,449.9 588.9,452.6 590.9,455.4 593,457.4 595,459.1 597.8,460.2 600.5,460.8 602.6,460.2 603.9,462.2 601.9,463.6 600.5,465.6 601.2,468.4 602.6,471.1 604.6,473.1 606.7,474.5 M608.7,468.4 610.8,466.3 613.5,464.3 616.9,462.9 621,462.2 625.1,462.6 628.5,464 631.3,465.6 633.3,467.7 632,469.7 629.2,469 626.5,469.7 624.4,471.1 626.5,473.1 628.5,475.2 630.6,477.9 632.6,480.7 633.6,483.4 632,484.1 629.9,482 627.9,480 625.8,478.6 623.8,479.3 624.4,482 623.1,483.1 621,481.3 619.6,479.3 618.3,480.7 619,482.7 617.6,482 615.8,479.3 614.2,476.6 612.1,474.5 610.1,472.5 609,470.4 608.7,468.4 M600.5,460.8 604.6,461.5 608.7,462.9 612.8,462.2 616.9,461.2 621,460.2 625.1,459.9 629.2,460.2 632.6,461.5 635.4,462.9 637.4,464.3 639.5,463.6 641.5,462.2 644.3,461.5 646.3,460.8 644.9,458.8 642.2,457.4 638.8,456.1 635.4,454.7 632,453.6 628.5,453 625.1,452.6 621.7,452.2 619,454 616.9,456.1 619,453.3 619.6,450.6 M619.6,450.6 617.6,447.9 615.5,445.1 613.5,443.1 611.4,441 610.1,439 610.8,436.9 613.5,436.2 616.2,437.6 619,439.6 621,439 622.4,436.9 621,434.9 619,433.5 617.6,431.4 619,429.4 621,428 623.1,426.7 625.1,425.3 627.9,424.3 630.6,423.5 633.3,423 636.1,423.5 638.1,424.6 639.5,426.7 640.8,424.6 642.2,422.6 M621,434.9 623.8,435.8 625.8,437.2 624.4,438.3 621.7,437.6 M619,439.6 620.3,441 622.4,441.7 M642.2,422.6 644.3,420.5 646.3,418.5 648.4,416.1 650.4,413.7 652.5,412 654.5,410.7 656.6,409.3 658.6,408.2 661.3,407.1 664.1,406.8 666.1,407.5 664.1,409.6 662,410.9 660,412.6 657.9,413.7 655.9,415 653.8,416.4 651.8,417.5 649.7,418.9 648.4,420.5 647,421.9 M656.6,409.3 658.6,406.2 661.3,403.4 664.1,401.4 666.8,400 M642.2,422.6 641.5,426 640.8,429.4 642.2,432.1 644.3,435.5 647,437.6 649.7,441 651.8,443.5 654.5,444.8 656.6,443.8 657.9,445.8 655.9,447.2 653.8,447.9 655.9,449.5 658.6,450.3 660.7,451.7 662.7,453.3 664.8,454.7 666.8,456.3 668.9,457.4 670.9,456.1 673,454.7 675,454 677.1,454.7 679.1,455.8 681.9,454.7 684.6,454.4 687.3,455.8 690.1,456.3 692.8,454.7 695.5,452.6 697.6,449.9 696.2,446.5 697.3,443.5 700.3,441.3 704.4,440.2 709.2,439.6 714,440.2 717.4,440.7 720,439.6 M642.9,439.6 644.3,436.9 646.3,434.9 648.4,432.8 649.7,434.2 649,436.9 650.4,439 649,440.7 646.3,441.3 644,441 642.9,439.6 M651.1,445.1 653.1,444.4 654.5,446.2 653.8,448.1 652.2,447.9 651.1,445.1 M658.6,454 661.3,453.6 663.4,454.7 661.8,455.8 659.3,455.4 658.6,454 M675.7,460.8 677.3,459.9 678.7,461.5 678.4,464.3 677.3,467 676,466.3 675.4,463.6 675.7,460.8 M667.5,460.2 669.6,459.5 671.6,458.8 M665.4,462.2 666.8,462.9 M670.2,463.2 672.3,464 M672.3,471.1 673.2,473.1 674.3,475.2 673,476.6 672.3,474.5 672.3,471.1 M621.7,452.6 625.1,453.6 628.5,454.7 632,455.8 635.4,457.1 638.8,458.5 641.5,459.9 643.6,460.8 642.2,458.8 639.5,457.1 636.1,455.8 632.6,454.4 629.2,453.6 625.8,452.6 623.1,452 621.7,452.6 M641.5,488.9 643.6,487.5 647,486.8 650.4,487.5 653.8,486.4 657.2,485.4 660.7,484.5 664.1,483.4 666.8,481.8 668.2,482.7 667.5,485.4 664.8,486.8 661.3,488.2 657.9,489.6 654.5,491.3 651.1,490.9 647.7,491.3 644.3,492.3 641.8,491.3 641.5,488.9 M637.4,462.9 638.8,464.3 639.9,465.6 M640.8,467.7 642.2,469 M643.6,464.3 644.9,465.6 M647,465.6 649,464.9 650.4,466.7 648.4,467.7 647,465.6 M651.8,464.3 653.1,465.6 M654.5,467 655.9,466.3 M660,466.3 661.3,467 M642.9,471.1 644.3,472.5 643.2,473.8 M649,469.7 650.4,470.4 M653.1,471.8 654.5,472.5 M639.5,471.1 640.4,473.1 M632,481.3 633,483.4 M651.1,449.2 652.5,450.3 M645.6,447.2 647.7,447.9 M632.6,448.5 634,449.5 M626.5,445.1 627.6,445.8 M634,428 635.4,429 M636.7,429.4 638.5,430.8 M632.6,434.9 634.7,435.8 633.6,436.9 632.6,434.9 M625.1,428.4 626.2,429.8 624.8,429.8 625.1,428.4 M634.7,440.3 635.4,441 M600.5,467.7 601.9,466.3 603.5,467 603.9,469.7 602.6,471.4 601.2,470 600.5,467.7 M604.6,473.8 606,474.9 607.1,476 M600.5,462.2 601.6,464.3 M703.7,406.8 703,409.6 705.1,412 708.5,412.3 709.2,410.3 707.1,408.2 703.7,406.8 M648.4,454.7 651.1,454 653.8,455 M656.6,457.4 659.3,458.5 662,460.2 M662,456.7 664.8,458.1 M616.9,454 619.6,454.7 622.4,454.4 625.1,455.4 M618.3,456.7 622.4,456.3 626.5,457.1 630.6,458.1 634,459.5 M470.9,281.6 469.7,282.9 468.5,284.5 467.3,286.5 466.1,288.1 464.1,289.3 461.7,289.7 460.1,290.9 459.3,293.3 459.7,295.7 460.1,298.1 460.5,300.5 461,302.9 461.7,305.3 462.9,307.8 463.7,310.2 463.3,312.6 464.1,315 465.7,317 466.9,319 467.7,321.4 468.1,323.4 M468.1,323.4 467.3,325.4 465.7,326.6 464.1,326.2 460.1,326.2 456.1,327.8 452,330 M467.7,322.2 470.5,323.8 472.9,325.4 474.5,326.6 M470.9,281.6 471.5,284.1 471.7,286.5 471.3,288.9 471.7,290.9 472.1,292.9 473.3,294.1 474.9,294.5 475.7,295.7 474.9,296.9 473.3,297.3 472.9,298.9 473.7,300.5 472.9,302.1 471.7,303.7 470.9,305.7 470.5,307.8 470.9,309.8 471.7,311.4 472.9,313 473.7,314.6 474.5,316.2 475.7,317.4 477.3,318.2 479,319 480.2,319.8 481,318.6 481.4,317 M472.1,305.3 473.7,304.5 475.7,304.7 477.3,305.7 478.2,307.3 477.8,309.4 476.5,310.6 474.5,311 472.9,310.2 472.1,308.6 471.7,306.9 472.1,305.3 M479.4,299.7 481,298.5 483,297.7 484.6,296.9 486.2,296.5 487.4,297.7 488.2,299.7 488.6,302.1 488.2,304.5 487.4,306.5 488.2,308.2 487,309.4 485.4,310.2 483.8,309.8 482.2,309.4 480.6,308.6 479.8,306.9 479.4,304.5 479,302.1 479.4,299.7 M473.7,313.4 475.7,313 477.8,313.4 479.8,313.8 481.8,313.4 483.4,312.6 484.6,311.4 M475.3,315 477.8,315.4 480.2,315 M481.8,300.5 483,299.9 483.8,300.9 482.6,301.5 481.8,300.5 M485,307.8 486.6,308.6 487.8,307.8 M500.6,301.7 501.8,301.3 503.5,302.1 503.9,303.3 502.7,304.1 501.2,303.6 500.6,301.7 M481.4,317 481.8,319 483.4,320.2 485,319.4 486.6,317.8 488.2,316.2 490.2,314.6 491.8,313.4 493,312.2 493.8,310.6 495.4,310.2 496.6,311.4 496.2,313 497.4,314.2 499,315.8 500.6,317 502.2,317.8 503.5,318.6 M503.5,318.2 505.1,316.6 507.1,315 509.1,313 511.1,310.6 512.7,308.6 514.3,306.5 516.3,304.5 518.3,302.5 520,301.3 M493.4,311 494.6,310.6 495.8,311.1 496.2,312.4 495,313 493.8,312.4 493.4,311 M460.1,290.9 462.1,290.5 464.1,291 465.7,292.1 464.9,293.7 462.9,294.1 461,294.5 460.1,293.3 460.1,290.9 M461.3,291.7 463.3,292.1 464.5,292.9 M460.7,292.9 462.5,293.3 M474.5,285.3 475.3,285.9 M479,291 479.5,291.5 M484.6,322.2 485,323.2 M492.6,323.4 493.8,324.6 M461.3,321 462.1,321.4 M463.3,311.8 464.1,313.4 M471.7,311.8 472.5,312.6 M474.1,300.9 474.9,301.7 M400.5,288 400,290.9 398.8,293.8 397.1,296.7 395.3,299.1 393.6,300.2 395.9,300.8 397.1,302 394.7,302.9 392.4,303.4 390.1,303.7 393,304.3 395.9,304.9 398.2,306 400,307.8 401.1,310.1 402.3,313 402.9,315.9 403.8,318.5 405.2,320.6 406.9,322.3 408.7,324.1 409.9,325.8 411.3,328.2 409.9,329.3 408.1,329.7 411,330.5 412.8,332.2 413.4,334.6 412.8,336.9 413.9,338.3 416.3,337.8 419.2,338.3 421.5,339.8 422.9,342.1 423.2,345.1 422.4,348 420.9,350.3 419.2,352 417.4,353.4 415.7,354.4 417.4,355.3 419.8,355.5 421.5,356.7 420.9,358.4 419.2,359.6 416.8,360.4 414.5,361.1 412.2,361.6 409.9,361.4 407.5,361.6 405.2,361.1 403.5,360.8 401.7,361.9 400,362.5 397.6,362.7 395.3,362.5 393,362.3 390.6,362.5 388.9,363.7 387.2,365.1 385.4,364.8 383.7,364.3 381.9,365.4 380.2,366.6 378.4,367.2 376.7,367.8 374.9,368.3 373.2,368.1 372,367.2 373.8,366 375.5,364.8 377.3,363.1 379,361.4 380.5,359.6 381.9,357.9 383.7,356.7 386,355.8 388.3,355.3 390.6,354.6 393,353.2 394.7,351.8 395.9,350.6 394.1,351.5 391.8,352.6 389.5,353.4 387.2,353 385.4,351.8 383.7,350.9 381.3,350.6 379,350.3 377.3,349.5 376.3,348 377.8,346.8 380.2,346.2 382.5,345.1 384.2,343.7 385.4,341.8 386,339.8 385.4,338.1 383.7,337.5 381.3,338.1 382.5,336.3 384.2,335.2 386.6,334.3 389.5,333.6 392.4,333.4 393.8,332.2 393,329.9 392.4,327.6 393.6,325.3 393,322.9 391.8,320.6 391.2,318.5 392.4,316.5 390.1,315.9 387.7,316.5 385.4,317.1 383.1,317.7 381.3,317.1 380.8,315.4 381.7,313 383.1,310.7 384.2,308.4 384.8,306 383.7,303.7 384.2,301.4 385.4,299.1 386.6,296.7 387.2,294.4 387.7,291.5 388.9,289.2 388.9,288 M402.3,361.4 403.8,360.8 404.6,361.9 403.5,362.7 402.3,362.3 402.3,361.4 M382.1,334 383.7,332.8 385.2,333.6 384.2,335.2 382.5,335.2 382.1,334 M381.9,324.1 383.3,322.3 384.8,321.8 384.2,323.5 382.8,325 381.9,324.1 M358.6,315.4 359.8,313 362.1,311.3 365,310.7 367.4,309.5 368.9,310.7 367.9,312.5 369.7,311.9 372,311.3 374.3,311.9 376.3,313.6 377.5,315.9 378.2,318.5 377.5,321.2 376.1,322.9 374,323.9 372.6,325.3 373.2,328.2 373.5,331.1 373.2,334.6 372.6,338.1 371.7,341 370,342.7 367.9,343.9 365.6,344.5 363.3,345.1 361,345.6 358.6,346.2 356.3,346.8 354,347.6 351.6,348 349.3,348.5 347.2,348.3 345.8,346.8 347,345.6 345.2,345.1 344.1,343.7 345.6,342.7 343.5,341.8 342.6,340.2 344.7,339.8 346.4,339.2 348.2,338.3 349.9,337.5 351.1,336.3 349.3,335.7 347.6,335.2 349.3,334 351.1,333.2 351.6,331.7 349.9,330.5 348.2,329.3 349.3,327.6 348.2,325.8 348.7,323.5 347.6,321.8 348.7,320 350.5,318.9 352.8,318.5 355.1,319.2 357.5,319.4 359.2,318.5 358.6,315.4 M371.2,317.1 372.6,316.5 373.8,317.7 373.5,319.4 372,320 371,318.9 371.2,317.1 M361,322.9 361.5,325.3 361.2,328.2 M357.5,333.4 358.6,334 M352.2,335.7 353.4,336.3 M369.1,288.6 370,290.9 369.1,292.7 M388.9,288 386.6,290.3 384.2,293.2 382.5,296.2 M398.2,373.6 400.5,373 402.3,374.2 M394.7,374.7 395.7,374.2" fill="none" stroke="#161616" stroke-width="1.0" stroke-linejoin="round" stroke-linecap="round"/>
<path d="M436.2,241.1 436.2,244.3 436.6,247.5 437.7,251.8 439.1,256.1 440.2,259.8 440.9,263 441.8,266.2 442.8,269.4 M511.4,242.7 514.6,242.1 518.9,242.4 523.1,241.1 M460.2,208.6 462.1,201.8 463.5,195.9 464.8,190.1 466,184.2 467.4,178.4 468.8,172.5 470.7,167.6 472.7,162.3 475.2,157.9 477.1,153.4 479.7,149.1 481.6,145.2 484.4,141.6 486.9,137.7 489.8,135 493.4,132.5 497.3,129.9 501.6,129.1 506.4,129.5 510.4,129.9 M464.5,177.4 467.4,172.5 469.3,168.6 M478.1,152 483,148.1 486.9,143.2 M529.9,201.8 534.8,203.4 540.6,205.3 545.5,206.1 549.4,206.7 M464.5,201 463.1,206.8 460.2,212.1 457.2,217.2 454.3,221.9 450.4,226.4 446.5,231.2 442.6,235.5 439.1,239.1 436.7,244.5 437.1,250.8 438.3,256.6 439.6,262.5 441,267.4 M217.6,118.8 213.7,122.1 210.7,127.2 207.8,132.5 204.9,137.3 202.3,142.2 201,147.1 M200,161.2 202.3,165.7 202.3,170.5 203.5,175.4 205.5,180.3 M207.8,179.9 213.7,176.4 219.5,173.5 225.4,169.6 231.2,163.7 238.1,161.2 243.9,158.8 248.8,153.9 253.7,151 M313.3,187.1 317.2,184.2 322.1,181.3 324,186.2 320.1,188.5 315.2,190.5 M524.4,202 527.3,199 529.3,202.9 532.2,200 533.6,203.9 531.2,206.8 534.8,207.8 537.1,204.3 539.1,207.8 M540,198 542,202 544.9,200 546.9,203.9 544.5,206.8 547.9,208.8 549.8,205.9 M525.4,208.8 528.9,210.7 527.3,213.7 530.9,215.2 529.3,218 M534.2,210.7 536.7,213.3 535.2,216 538.7,217.2 537.1,219.9 540.6,221.1 M542,209.8 544.5,212.1 543,215.2 546.5,216 545.3,219.1 M547.9,211.7 550.4,214.1 548.8,217.2 M522.5,214.6 525,217.2 523.4,219.5 526.4,221.9 529.3,220.5 M531.2,219.5 533.6,222.5 536.7,223 M540,218.6 542,221.9 544.9,223 547.9,221.1 M499,315.8 500.6,317 502.2,317.8 503.5,318.6 M460.1,291.3 462.1,291 464.1,291.7 465.1,292.9 M470.9,310.2 472.1,311.8 473.3,311.4 M374.9,288 376.1,290.9 377,293.8 376.1,296.7 377.5,299.1 379,297.3 380.2,295 381,297.9 379.6,300.8 378.4,303.7 380.2,305.5 381.9,303.1 383.7,301.4 382.8,304.9 381.3,307.8 379.6,309.5 377.8,308.4 376.1,306.6 374.3,305.5 373.2,304.3 374.9,302.6 376.3,300.2 374.9,298.5 373.2,297.3 372,295.6 373.8,294.4 374.7,291.5 M377.3,291.5 379.6,290.3 380.2,293.2 M378.4,305.5 380.2,307.2 379,310.1 377.5,309" fill="none" stroke="#1e1e1e" stroke-width="1.7" stroke-linejoin="round" stroke-linecap="round"/>
<path d="M11.7,155.9C12.3,156.5 14.3,158.2 15.2,159.8C16.1,161.4 16.5,163.5 17.2,165.7C17.8,167.8 18.6,170.4 19.1,172.5C19.7,174.6 19.9,175.9 20.5,178.4C21.2,180.8 22,184.2 23,187.1C24.1,190.1 25.6,192.8 27,195.9C28.3,199 30.1,203.4 31.2,205.7C32.4,208 33.2,209.3 33.6,210 M600,162.3C599.4,162.7 597.1,163.6 596.3,164.7C595.5,165.7 595.1,167.3 595.3,168.6C595.5,169.9 596.5,171.6 597.3,172.5C598,173.4 599.5,173.8 600,174.1 M615.6,117.8C615.3,119.1 614.5,123 613.7,125.6C612.9,128.2 611.7,130.7 610.7,133.4C609.8,136.2 608.5,139.8 608.2,142.2C607.9,144.7 607.9,146.9 608.8,148.1C609.7,149.2 611.9,149.4 613.7,149.1C615.5,148.7 617.7,146.3 619.5,146.1C621.3,146 624.1,146.9 624.4,148.1C624.7,149.2 622.9,151.5 621.5,153C620,154.4 617.9,155.7 615.6,156.9C613.3,158 610.4,158.8 607.8,159.8C605.2,160.8 601.3,162.2 600,162.7 M600,173.5C601,173.2 603.9,171.2 605.9,171.5C607.8,171.8 609.9,173.8 611.7,175.4C613.5,177.1 615.5,178.8 616.6,181.3C617.7,183.7 618.1,187.3 618.6,190.1C619,192.8 619,195.3 619.5,197.9C620,200.5 620.8,203.7 621.5,205.7C622.1,207.7 623.1,209.3 623.4,210 M649.8,117.8C649.5,119 647.5,122.4 647.9,124.6C648.2,126.9 650.3,129.2 651.8,131.5C653.2,133.8 654.5,136.4 656.6,138.3C658.8,140.3 662.8,141.7 664.5,143.2C666.1,144.7 666.2,145.6 666.4,147.1C666.6,148.6 664.9,150.4 665.4,152C665.9,153.6 667.9,155.1 669.3,156.9C670.8,158.7 672.4,160.8 674.2,162.7C676,164.7 678,166.8 680.1,168.6C682.2,170.4 685.3,171.8 686.9,173.5C688.5,175.1 689,176.4 689.8,178.4C690.7,180.3 691,182.9 691.8,185.2C692.6,187.5 693.8,189.9 694.7,192C695.7,194.1 696.8,195.9 697.7,197.9C698.5,199.8 699.4,201.7 699.6,203.8C699.8,205.8 698.8,209 698.6,210 M663.5,117.8C664.6,118.1 667.9,118.9 670.3,119.4C672.8,119.9 676.8,120.5 678.1,120.7 M31.2,207C32.6,208.6 36.5,213.1 39.1,216.7C41.7,220.3 44.3,224.9 46.9,228.4C49.5,232 52.1,234.9 54.7,238.2C57.3,241.5 59.6,244.6 62.5,248C65.4,251.4 69,255.5 72.3,258.7C75.5,262 79.8,264.4 82,267.5C84.3,270.6 84.3,274.2 85.9,277.3C87.6,280.4 89.5,283.3 91.8,286.1C94.1,288.8 97.3,291.4 99.6,293.9C101.9,296.3 104.2,298.8 105.5,300.7C106.8,302.6 107.1,304.3 107.4,305 M620.1,201C620.3,202 620.3,204.9 621.1,206.8C621.9,208.8 623,210.7 625,212.7C627,214.6 630.2,216.8 632.8,218.6C635.4,220.3 638,222 640.6,223.4C643.2,224.9 645.8,226.2 648.4,227.3C651,228.5 653.6,229.5 656.2,230.3C658.9,231.1 661.5,231.6 664.1,232.2C666.7,232.9 669.3,233.6 671.9,234.2C674.5,234.8 677.1,235.3 679.7,235.7C682.3,236.2 685.4,237 687.5,236.7C689.6,236.5 691.4,235.4 692.4,234.2C693.4,232.9 692.9,231.1 693.4,229.3C693.8,227.5 694.8,225.4 695.3,223.4C695.8,221.5 696.5,219.5 696.3,217.6C696.1,215.6 695.1,213.3 694.3,211.7C693.5,210.1 691.9,208.5 691.4,207.8 M768.1,335.4C769.1,334.9 771.7,333 774,332.3C776.3,331.5 779.2,331 781.8,330.9C784.4,330.8 787.3,331 789.6,331.5C791.9,332 795.3,332.9 795.5,333.8C795.6,334.7 792.5,336.2 790.6,336.8C788.6,337.3 786.2,337.2 783.8,337.3C781.3,337.5 778.2,337.7 775.9,337.7C773.7,337.8 771.1,337.7 770.1,337.7 M778.9,339.3C780,339.4 783.4,340.4 785.7,340.1C788,339.8 791.4,337.8 792.5,337.3 M732,338.7C732.6,338.5 735.3,337.1 735.9,337.7C736.5,338.4 736,341.7 735.3,342.6C734.7,343.5 732.5,343.1 732,343.2 M755.4,342.6C756.1,342.5 758.8,341.3 759.3,342C759.9,342.8 759.4,346.2 758.8,347.1C758.1,348 756,347.4 755.4,347.5 M791.6,366.1C792.4,365.9 795.8,364.7 796.4,365.1C797.1,365.5 796.3,367.9 795.5,368.6C794.7,369.2 792.2,368.9 791.6,369 M807.2,364.1C807.6,363.9 809.2,362.8 809.5,363.1C809.9,363.5 809.2,365.6 809.1,366.1 M729.1,377.8C729.7,376.6 731.3,372.9 733,370.9C734.6,369 737,367.8 738.8,366.1C740.6,364.3 742.1,361.4 743.7,360.2C745.3,359 747.1,358.5 748.6,358.8C750.1,359.2 751.5,360.6 752.5,362.1C753.5,363.7 753.5,366.5 754.5,368C755.4,369.5 756.4,370.5 758.4,370.9C760.3,371.4 763.6,370.8 766.2,370.5C768.8,370.3 771.5,369.6 774,369.4C776.4,369.2 779.2,368.8 780.8,369.4C782.4,370 783.6,371.3 783.8,372.9C783.9,374.5 782.8,377.1 781.8,378.8C780.8,380.4 779,381.6 777.9,382.7C776.8,383.7 775.4,384.6 775,385 M830.6,370.9C831.6,371.1 834.5,371.3 836.5,371.9C838.4,372.5 840.4,373.9 842.3,374.5C844.3,375 846.2,375.5 848.2,375.2C850.2,375 852.1,373.9 854.1,372.9C856,371.8 858,370.3 859.9,369C861.9,367.7 863.8,366.4 865.8,365.1C867.7,363.8 869.7,362.1 871.6,361.2C873.6,360.2 875.5,359.2 877.5,359.2C879.5,359.2 881.7,360.4 883.4,361.2C885,362 886.2,363.3 887.3,364.1C888.4,364.9 889.5,365.7 890,366.1 M697.8,382.7C698.8,382.3 701.7,380.7 703.7,380.3C705.6,379.9 708.2,379.5 709.5,380.3C710.8,381.1 711.2,384.2 711.5,385 M860,368.6C860.8,368.1 862.9,367.2 864.8,366.1C866.7,365.1 869.1,363.2 871.2,362.1C873.4,361.1 875.8,360 877.7,359.7C879.5,359.4 880.9,359.8 882.5,360.5C884.1,361.2 885.7,362.7 887.3,363.7C888.9,364.7 890.3,365.9 892.1,366.6C894,367.4 896.1,368 898.6,368.2C901,368.4 904.2,367.8 906.6,367.7C909,367.7 911.1,367.3 913,367.7C914.9,368.1 916.2,369.1 917.8,370.2C919.4,371.2 921,373 922.6,374.2C924.3,375.3 925.6,376.2 927.5,376.9C929.3,377.6 931.7,378.1 933.9,378.2C936,378.3 938.2,377.8 940.3,377.4C942.5,377 944.6,376.3 946.7,375.8C948.9,375.2 951,374.7 953.2,374.2C955.3,373.6 957.4,373.2 959.6,372.6C961.7,371.9 963.9,371 966,370.2C968.2,369.4 970.3,368.7 972.4,367.7C974.6,366.8 976.9,365.7 978.9,364.5C980.9,363.3 982.9,361.9 984.5,360.5C986.1,359.2 987,357.3 988.5,356.5C990,355.7 991.7,356.1 993.3,355.7C994.9,355.3 996.8,354.9 998.1,354.1C999.5,353.3 1000.3,351.8 1001.4,350.9C1002.4,349.9 1003.2,349.1 1004.6,348.5C1005.9,347.9 1007.8,347.6 1009.4,347.3C1011,347.1 1012.7,347.1 1014.2,346.9C1015.7,346.7 1017.5,346.2 1018.2,346.1 M860,430.4C860.8,430.1 863.2,429.5 864.8,428.8C866.4,428.1 868.3,427.3 869.6,426.4C871,425.4 871.5,424.2 872.9,423.2C874.2,422.1 875.8,420.9 877.7,420C879.5,419 881.7,417.9 884.1,417.5C886.5,417.1 889.4,417.5 892.1,417.5C894.8,417.5 897.5,417.4 900.2,417.5C902.8,417.7 905.8,417.8 908.2,418.3C910.6,418.9 912.5,420.1 914.6,420.8C916.8,421.4 918.9,422.1 921,422.4C923.2,422.6 925.6,422.1 927.5,422.4C929.3,422.6 930.9,423 932.3,424C933.6,424.9 934.7,426.2 935.5,428C936.3,429.7 937,432.3 937.1,434.4C937.2,436.5 936.7,439 936.3,440.8C935.9,442.7 935.2,444.1 934.7,445.7C934.2,447.2 933.4,449.3 933.1,450 M390.6,486.4C392.1,486.3 396.6,486 399.4,486C402.1,486.1 405.6,486.6 407.2,486.8C408.8,487 408.8,487.3 409.1,487.4 M390.6,487.4C390.9,488.2 391.7,490.6 392.5,492.3C393.4,493.9 395.1,495.5 395.5,497.1C395.8,498.8 395.1,500.4 394.5,502C393.8,503.7 392.4,505.3 391.6,506.9C390.7,508.5 390.4,510.2 389.6,511.8C388.8,513.4 388.1,515.5 386.7,516.7C385.2,517.8 382.6,518.1 380.8,518.6C379,519.2 376.8,519.8 375.9,520 M417.9,478.6C418.3,478.1 418.7,476.6 419.9,475.7C421,474.8 423,473.6 424.8,473.1C426.6,472.6 428.7,472.5 430.6,472.7C432.6,472.9 434.5,474 436.5,474.3C438.4,474.6 440.4,475 442.3,474.7C444.3,474.4 446.2,473.3 448.2,472.3C450.2,471.4 452.1,469.7 454.1,468.8C456,467.9 457.6,467.3 459.9,466.9C462.2,466.5 465.1,466.5 467.7,466.5C470.3,466.4 472.9,466.4 475.5,466.5C478.2,466.5 481,466.7 483.4,466.9C485.8,467 488.9,467.2 490,467.3 M470,466.1C471,466.1 473.9,466 475.9,466.1C477.8,466.2 479.9,466.5 481.7,466.6C483.5,466.8 485.8,467 486.6,467 M501.2,480.7C502.6,480.5 506.1,479.8 509.1,479.7C512,479.7 515.6,480.1 518.8,480.3C522.1,480.5 525.3,480.9 528.6,481.1C531.8,481.3 535.1,481.5 538.4,481.7C541.6,481.9 545.5,482.2 548.1,482.3C550.7,482.4 553,482.3 554,482.3 M694.2,391.7C694.3,390.9 694.3,388.3 695.2,386.8C696,385.4 697.4,383.9 699.1,382.9C700.7,382 703.3,381 704.9,381C706.5,381 708.2,381.8 708.8,382.9C709.5,384.1 709,386 708.8,387.8C708.7,389.6 707.9,391.9 707.9,393.7C707.9,395.5 709,396.9 708.8,398.6C708.7,400.2 707.9,402.1 706.9,403.4C705.9,404.7 704.4,406.4 703,406.4C701.5,406.4 699.5,404.7 698.1,403.4C696.7,402.1 695.4,400.5 694.8,398.6C694.1,396.6 694.3,392.9 694.2,391.7 M713.7,394.6C714.4,394.3 716.5,392.5 717.6,392.7C718.8,392.9 720.4,394.5 720.5,395.6C720.7,396.8 719.6,398.9 718.6,399.5C717.6,400.1 715.7,399.6 714.7,399.1C713.7,398.7 712.9,397.4 712.7,396.6C712.6,395.9 713.5,395 713.7,394.6 M727.4,380C728,380.8 729.8,383.3 731.3,384.9C732.8,386.5 734.4,388.5 736.2,389.8C738,391.1 740.9,391.4 742,392.7C743.2,394 743.7,396.3 743,397.6C742.4,398.9 739.9,399.7 738.1,400.5C736.3,401.3 734.1,401.6 732.3,402.5C730.5,403.3 728.7,403.9 727.4,405.4C726.1,406.9 725.1,409 724.5,411.2C723.8,413.5 723.8,416.8 723.5,419.1C723.2,421.3 723.3,423.1 722.5,424.9C721.7,426.7 720.1,428.3 718.6,429.8C717.1,431.3 715.5,432.9 713.7,433.7C711.9,434.5 709.8,434.8 707.9,434.7C705.9,434.6 703.9,433.7 702,433.1C700,432.5 698.2,431.5 696.1,431.2C694,430.8 691.7,431 689.3,431.2C686.9,431.4 683.9,431.8 681.5,432.3C679,432.9 676.9,433.5 674.6,434.3C672.4,435.1 669.9,436 667.8,437C665.7,438.1 663.3,439.6 662,440.5C660.7,441.5 660.3,442.2 660,442.5 M779.1,382C778.5,383.1 776.5,386.8 775.2,388.8C773.9,390.7 773,392 771.3,393.7C769.7,395.3 767.4,397.3 765.5,398.6C763.5,399.9 761.2,400.3 759.6,401.5C758,402.6 756.5,403.8 755.7,405.4C754.9,407 754.1,409.6 754.7,411.2C755.4,412.9 757.5,414 759.6,415.2C761.7,416.3 765.1,416.8 767.4,418.1C769.7,419.4 771.7,421.8 773.3,423C774.9,424.2 775.2,425.1 777.2,425.3C779.1,425.6 782.4,425.1 785,424.5C787.6,424 790.2,422.7 792.8,422C795.4,421.2 798,420.7 800.6,420C803.2,419.4 805.8,418 808.4,418.1C811,418.2 814,419.8 816.2,420.6C818.5,421.4 819.8,423.1 822.1,423C824.4,422.9 827.5,421.2 829.9,420C832.4,418.9 835,417.6 836.8,416.1C838.5,414.7 839.9,413.4 840.7,411.2C841.5,409.1 841.2,405.7 841.6,403.4C842.1,401.2 842.3,399.2 843.6,397.6C844.9,396 848.3,395.1 849.5,393.7C850.6,392.2 850.8,390.3 850.4,388.8C850.1,387.3 848.6,386 847.5,384.9C846.4,383.8 844.2,382.8 843.6,382.3 M860,431.8C859.2,432.4 856.7,434.2 855.3,435.7C853.9,437.1 852.4,438.8 851.4,440.5C850.4,442.3 849.6,444.1 849.5,446.4C849.3,448.7 849.9,451.6 850.4,454.2C850.9,456.8 851.7,459.4 852.4,462C853,464.6 853.8,467.6 854.3,469.8C854.8,472.1 855,474 855.3,475.7C855.6,477.4 856.1,479.3 856.3,480 M394.4,500C394.1,500.9 393,503.6 392.3,505.4C391.6,507.2 390.7,508.8 390.1,510.7C389.6,512.7 390,515.7 389.1,517.2C388.2,518.7 386.6,519.1 384.8,519.8C383,520.4 380.5,520.7 378.3,521.1C376.2,521.4 373.5,521.3 371.9,521.9C370.3,522.5 368.7,523.7 368.7,524.7C368.7,525.7 370.4,526.7 371.9,527.9C373.3,529.2 375.5,530.8 377.2,532.2C379,533.7 380.6,535.4 382.6,536.5C384.6,537.6 386.9,538 389.1,538.7C391.2,539.4 393.5,539.9 395.5,540.8C397.5,541.7 399.8,542.4 400.9,544C402,545.7 402.7,548.4 402,550.5C401.2,552.5 397.3,554.3 396.6,556.3C395.9,558.3 396.6,560.8 397.7,562.3C398.7,563.8 401.8,564.5 403,565.5C404.3,566.6 405.4,567.5 405.2,568.8C405,570 403.6,572.2 402,573C400.3,573.9 397.7,574 395.5,574.1C393.4,574.2 391,573.3 389.1,573.5C387.1,573.7 385.3,574.4 383.7,575.2C382.1,576 380.6,577.3 379.4,578.4C378.1,579.5 377.8,581.2 376.2,581.6C374.6,582.1 371.9,581.3 369.7,581.2C367.6,581.1 364.9,580.7 363.3,581.2C361.7,581.7 361.3,583.4 360.1,584.2C358.8,585 357.4,585.6 355.8,585.9C354.2,586.3 352,585.8 350.4,586.4C348.8,586.9 347,587.8 346.1,589.2C345.2,590.5 346.1,593.3 345,594.5C343.9,595.7 341.6,596.1 339.6,596.2C337.7,596.4 335.4,595.2 333.2,595.6C331.1,596 328.4,597.6 326.8,598.8C325.1,600.1 324.1,601.7 323.5,603.1C323,604.6 322.8,606.3 323.5,607.4C324.3,608.5 326.9,608.1 327.8,609.6C328.7,611 329.3,614 328.9,616C328.5,618 326.4,620.1 325.7,621.4C325,622.6 324.8,623.2 324.6,623.5 M355.8,585.9C355.6,586.8 354.3,589.9 354.7,591.3C355,592.7 356.5,594.1 357.9,594.5C359.3,595 361.3,594.4 363.3,594.1C365.3,593.8 368.1,593.6 369.7,592.8C371.3,592 372.6,590.3 372.9,589.2C373.3,588 372.1,586.5 371.9,585.9 M558.2,489.7C560,489.8 565.4,490.7 569,490.7C572.6,490.7 576.1,490.4 579.7,489.7C583.3,489 587.2,487.6 590.5,486.4C593.7,485.3 596.9,483.7 599.1,482.6C601.2,481.5 602.6,480.4 603.4,480 M850.9,440C850.8,441.7 850.1,446.6 850.2,449.9C850.3,453.2 850.9,456.5 851.7,459.8C852.4,463.1 853.8,466.2 854.7,469.7C855.6,473.2 856.6,476.9 857.1,480.8C857.6,484.8 857.2,489.9 857.6,493.2C858,496.5 858.2,498.5 859.6,500.7C861,502.8 863.1,505.6 865.8,506.3C868.5,507.1 872.6,504.4 875.7,504.9C878.8,505.4 881.3,507.3 884.4,509.3C887.5,511.3 891,514.3 894.3,516.7C897.6,519.2 902.1,521.7 904.2,524.2C906.2,526.7 905.8,529.3 906.7,531.6C907.5,533.9 907.1,536.3 909.1,537.8C911.2,539.2 915.5,539.3 919,540.3C922.5,541.2 926.5,542.5 930.2,543.5C933.9,544.5 937.4,545.5 941.3,546.5C945.2,547.4 949.6,547.9 953.7,548.9C957.8,550 961.9,551.2 966.1,552.6C970.2,554.1 974.3,555.7 978.4,557.6C982.6,559.5 986.7,561.5 990.8,563.8C995,566.1 999.5,568.9 1003.2,571.2C1006.9,573.5 1010.6,576.1 1013.1,577.4C1015.6,578.7 1017.2,578.8 1018.1,579.1 M936.4,440C935.7,441 933.1,444.1 932.6,446.2C932.2,448.3 931.9,450.6 933.4,452.4C934.8,454.2 938.3,455.8 941.3,456.8C944.3,457.9 947.9,457.9 951.2,458.6C954.5,459.3 958.2,460.2 961.1,461C964,461.9 966.3,463.9 968.5,463.5C970.8,463.1 972.3,459.9 974.7,458.6C977.2,457.2 980.3,456.3 983.4,455.3C986.5,454.4 990,453.3 993.3,452.9C996.6,452.5 999.9,452.5 1003.2,452.9C1006.5,453.2 1010.6,454.3 1013.1,454.9C1015.6,455.4 1017.2,455.9 1018.1,456.1 M107.9,304.8C108.5,307.7 111.7,316.4 112,322.2C112.3,328 110.9,334.4 109.6,339.6C108.3,344.8 107,349.2 104.4,353.5C101.8,357.9 96.5,362.8 93.9,365.7C91.3,368.6 89.6,370.1 88.7,370.9 M97.6,360C96.7,361.2 94.9,364.8 92.2,367.2C89.5,369.6 83.8,371.1 81.4,374.5C78.9,377.8 78.3,383.5 77.7,387.1C77.1,390.7 79.2,393.4 77.7,396.2C76.2,398.9 72.6,400.7 68.7,403.4C64.8,406.1 59.1,410 54.2,412.4C49.4,414.8 44,417.1 39.8,417.9C35.6,418.6 32.5,418.3 28.9,417.1C25.3,415.9 21.7,412.9 18.1,410.6C14.5,408.3 9,404.6 7.2,403.4 M580,490.2C580.9,489.9 583.6,488.9 585.5,488.2C587.3,487.5 589.1,486.7 590.9,485.9C592.8,485.1 594.6,484.3 596.4,483.4C598.2,482.5 600.1,481.6 601.9,480.7C603.7,479.8 606,478.6 607.3,477.9C608.7,477.2 609.6,476.8 610.1,476.6 M632,480.7C632.4,480.2 633.8,479 634.7,477.9C635.6,476.9 636.5,475.7 637.4,474.5C638.3,473.4 639.4,472.3 640.2,471.1C641,469.8 641.5,468.4 642.2,467C642.9,465.6 643.5,464.3 644.3,462.9C645.1,461.5 646.1,460.2 647,458.8C647.9,457.4 648.7,455.9 649.7,454.7C650.8,453.4 652,452.4 653.1,451.3C654.3,450.1 655.3,449.1 656.6,447.9C657.8,446.6 659.3,445 660.7,443.8C662,442.5 663.4,441.5 664.8,440.3C666.1,439.2 667.3,437.9 668.9,436.9C670.5,435.9 672.5,434.9 674.3,434.2C676.2,433.5 678,432.9 679.8,432.5C681.6,432.2 683.5,432.1 685.3,432.1C687.1,432.2 688.9,432.6 690.7,432.8C692.6,433 694.4,433.3 696.2,433.5C698,433.7 699.9,433.9 701.7,434.2C703.5,434.5 705.3,435.2 707.1,435.3C709,435.4 711,435.3 712.6,434.9C714.2,434.5 715.5,433.7 716.7,432.8C717.9,431.9 719.5,430 720,429.4 M696.2,400C696.7,400.5 697.9,401.8 698.9,402.7C700,403.6 701.3,404.9 702.4,405.5C703.4,406 704.2,406.3 705.1,406.2C706,406 707.3,405.6 707.8,404.8C708.4,404 708.5,402.2 708.5,401.4C708.5,400.6 707.9,400.2 707.8,400 M688.7,429.4C689.3,429.6 691.8,430.3 692.1,430.8C692.5,431.2 691,431.9 690.7,432.1 M694.8,429.4C695.5,429.5 698.5,429.3 698.9,429.8C699.4,430.3 697.8,431.7 697.6,432.1" fill="none" stroke="#222" stroke-width="1.1" stroke-dasharray="4.2,2.8"/>
<rect x="406.8" y="601.5" width="11" height="6.6" fill="#fff"/><text x="412.3" y="606.3" class="gl">30N</text><rect x="406.8" y="478.1" width="11" height="6.6" fill="#fff"/><text x="412.3" y="482.9" class="gl">40N</text><rect x="406.8" y="364.3" width="11" height="6.6" fill="#fff"/><text x="412.3" y="369.1" class="gl">50N</text><rect x="406.8" y="257.6" width="11" height="6.6" fill="#fff"/><text x="412.3" y="262.4" class="gl">60N</text><rect x="406.8" y="155.7" width="11" height="6.6" fill="#fff"/><text x="412.3" y="160.5" class="gl">70N</text>
</g>
<rect x="6" y="117" width="1012" height="505" fill="none" stroke="#bdb5a9" stroke-width="0.85"/>
<rect x="256.0" y="717.5" width="51.3" height="22" fill="#004c4c"/><rect x="307.2" y="717.5" width="51.3" height="22" fill="#008080"/><rect x="358.4" y="717.5" width="51.3" height="22" fill="#10b0b0"/><rect x="409.6" y="717.5" width="51.3" height="22" fill="#a0e6e6"/><rect x="460.8" y="717.5" width="51.3" height="22" fill="#ccffff"/><rect x="512.0" y="717.5" width="51.3" height="22" fill="#ffd9f2"/><rect x="563.2" y="717.5" width="51.3" height="22" fill="#ffa6e0"/><rect x="614.4" y="717.5" width="51.3" height="22" fill="#e040ac"/><rect x="665.6" y="717.5" width="51.3" height="22" fill="#b00078"/><rect x="716.8" y="717.5" width="51.3" height="22" fill="#4d0033"/>
<text x="258.0" y="711.2" class="ll">&lt;-40</text><text x="307.2" y="711.2" class="ll">-40</text><text x="358.4" y="711.2" class="ll">-20</text><text x="409.6" y="711.2" class="ll">-10</text><text x="460.8" y="711.2" class="ll">-5</text><text x="512.0" y="711.2" class="ll">0</text><text x="563.2" y="711.2" class="ll">5</text><text x="614.4" y="711.2" class="ll">10</text><text x="665.6" y="711.2" class="ll">20</text><text x="716.8" y="711.2" class="ll">40</text><text x="768.0" y="711.2" class="ll">&gt;40</text>
</svg>
</body></html>
